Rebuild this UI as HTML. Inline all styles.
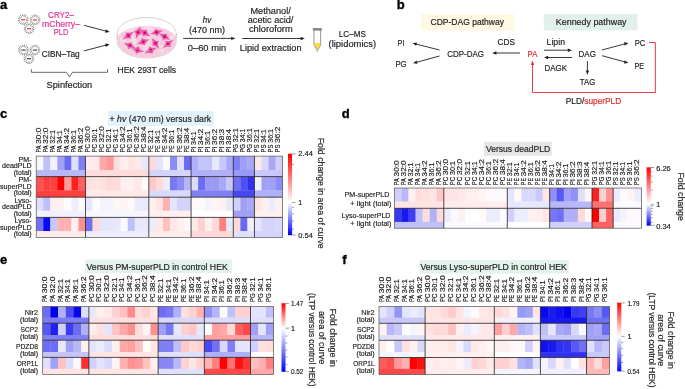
<!DOCTYPE html>
<html><head><meta charset="utf-8"><style>
html,body{margin:0;padding:0;background:#fff;width:685px;height:389px;overflow:hidden}
svg{display:block;will-change:transform}
text{font-family:"Liberation Sans",sans-serif}
</style></head><body>
<svg width="685" height="389" viewBox="0 0 685 389" font-family="Liberation Sans, sans-serif" fill="#231f20">
<text x="0.00" y="8.90" font-size="13" fill="#000" font-weight="bold" stroke="#000" stroke-width="0.35">a</text>
<line x1="27.12" y1="20.47" x2="28.59" y2="20.77" stroke="#555" stroke-width="0.7"/>
<line x1="26.53" y1="21.88" x2="27.78" y2="22.72" stroke="#555" stroke-width="0.7"/>
<line x1="25.45" y1="22.95" x2="26.28" y2="24.20" stroke="#555" stroke-width="0.7"/>
<line x1="24.05" y1="23.53" x2="24.33" y2="25.00" stroke="#555" stroke-width="0.7"/>
<line x1="22.53" y1="23.52" x2="22.23" y2="24.99" stroke="#555" stroke-width="0.7"/>
<line x1="21.12" y1="22.93" x2="20.28" y2="24.18" stroke="#555" stroke-width="0.7"/>
<line x1="20.05" y1="21.85" x2="18.80" y2="22.68" stroke="#555" stroke-width="0.7"/>
<line x1="19.47" y1="20.45" x2="18.00" y2="20.73" stroke="#555" stroke-width="0.7"/>
<line x1="19.48" y1="18.93" x2="18.01" y2="18.63" stroke="#555" stroke-width="0.7"/>
<line x1="20.07" y1="17.52" x2="18.82" y2="16.68" stroke="#555" stroke-width="0.7"/>
<line x1="21.15" y1="16.45" x2="20.32" y2="15.20" stroke="#555" stroke-width="0.7"/>
<line x1="22.55" y1="15.87" x2="22.27" y2="14.40" stroke="#555" stroke-width="0.7"/>
<line x1="24.07" y1="15.88" x2="24.37" y2="14.41" stroke="#555" stroke-width="0.7"/>
<line x1="25.48" y1="16.47" x2="26.32" y2="15.22" stroke="#555" stroke-width="0.7"/>
<line x1="26.55" y1="17.55" x2="27.80" y2="16.72" stroke="#555" stroke-width="0.7"/>
<line x1="27.13" y1="18.95" x2="28.60" y2="18.67" stroke="#555" stroke-width="0.7"/>
<circle cx="23.3" cy="19.7" r="3.5" fill="#fff" stroke="#6e6e6e" stroke-width="0.65" stroke-dasharray="1.1 0.6"/>
<rect x="21.2" y="19.0" width="4.2" height="1.4" fill="#e8525c"/>
<line x1="38.82" y1="20.67" x2="40.29" y2="20.97" stroke="#555" stroke-width="0.7"/>
<line x1="38.23" y1="22.08" x2="39.48" y2="22.92" stroke="#555" stroke-width="0.7"/>
<line x1="37.15" y1="23.15" x2="37.98" y2="24.40" stroke="#555" stroke-width="0.7"/>
<line x1="35.75" y1="23.73" x2="36.03" y2="25.20" stroke="#555" stroke-width="0.7"/>
<line x1="34.23" y1="23.72" x2="33.93" y2="25.19" stroke="#555" stroke-width="0.7"/>
<line x1="32.82" y1="23.13" x2="31.98" y2="24.38" stroke="#555" stroke-width="0.7"/>
<line x1="31.75" y1="22.05" x2="30.50" y2="22.88" stroke="#555" stroke-width="0.7"/>
<line x1="31.17" y1="20.65" x2="29.70" y2="20.93" stroke="#555" stroke-width="0.7"/>
<line x1="31.18" y1="19.13" x2="29.71" y2="18.83" stroke="#555" stroke-width="0.7"/>
<line x1="31.77" y1="17.72" x2="30.52" y2="16.88" stroke="#555" stroke-width="0.7"/>
<line x1="32.85" y1="16.65" x2="32.02" y2="15.40" stroke="#555" stroke-width="0.7"/>
<line x1="34.25" y1="16.07" x2="33.97" y2="14.60" stroke="#555" stroke-width="0.7"/>
<line x1="35.77" y1="16.08" x2="36.07" y2="14.61" stroke="#555" stroke-width="0.7"/>
<line x1="37.18" y1="16.67" x2="38.02" y2="15.42" stroke="#555" stroke-width="0.7"/>
<line x1="38.25" y1="17.75" x2="39.50" y2="16.92" stroke="#555" stroke-width="0.7"/>
<line x1="38.83" y1="19.15" x2="40.30" y2="18.87" stroke="#555" stroke-width="0.7"/>
<circle cx="35" cy="19.9" r="3.5" fill="#fff" stroke="#6e6e6e" stroke-width="0.65" stroke-dasharray="1.1 0.6"/>
<rect x="32.9" y="19.2" width="4.2" height="1.4" fill="#e8525c"/>
<line x1="32.92" y1="29.47" x2="34.39" y2="29.77" stroke="#555" stroke-width="0.7"/>
<line x1="32.33" y1="30.88" x2="33.58" y2="31.72" stroke="#555" stroke-width="0.7"/>
<line x1="31.25" y1="31.95" x2="32.08" y2="33.20" stroke="#555" stroke-width="0.7"/>
<line x1="29.85" y1="32.53" x2="30.13" y2="34.00" stroke="#555" stroke-width="0.7"/>
<line x1="28.33" y1="32.52" x2="28.03" y2="33.99" stroke="#555" stroke-width="0.7"/>
<line x1="26.92" y1="31.93" x2="26.08" y2="33.18" stroke="#555" stroke-width="0.7"/>
<line x1="25.85" y1="30.85" x2="24.60" y2="31.68" stroke="#555" stroke-width="0.7"/>
<line x1="25.27" y1="29.45" x2="23.80" y2="29.73" stroke="#555" stroke-width="0.7"/>
<line x1="25.28" y1="27.93" x2="23.81" y2="27.63" stroke="#555" stroke-width="0.7"/>
<line x1="25.87" y1="26.52" x2="24.62" y2="25.68" stroke="#555" stroke-width="0.7"/>
<line x1="26.95" y1="25.45" x2="26.12" y2="24.20" stroke="#555" stroke-width="0.7"/>
<line x1="28.35" y1="24.87" x2="28.07" y2="23.40" stroke="#555" stroke-width="0.7"/>
<line x1="29.87" y1="24.88" x2="30.17" y2="23.41" stroke="#555" stroke-width="0.7"/>
<line x1="31.28" y1="25.47" x2="32.12" y2="24.22" stroke="#555" stroke-width="0.7"/>
<line x1="32.35" y1="26.55" x2="33.60" y2="25.72" stroke="#555" stroke-width="0.7"/>
<line x1="32.93" y1="27.95" x2="34.40" y2="27.67" stroke="#555" stroke-width="0.7"/>
<circle cx="29.1" cy="28.7" r="3.5" fill="#fff" stroke="#6e6e6e" stroke-width="0.65" stroke-dasharray="1.1 0.6"/>
<rect x="27.0" y="28.0" width="4.2" height="1.4" fill="#e8525c"/>
<line x1="27.32" y1="50.87" x2="28.79" y2="51.17" stroke="#555" stroke-width="0.7"/>
<line x1="26.73" y1="52.28" x2="27.98" y2="53.12" stroke="#555" stroke-width="0.7"/>
<line x1="25.65" y1="53.35" x2="26.48" y2="54.60" stroke="#555" stroke-width="0.7"/>
<line x1="24.25" y1="53.93" x2="24.53" y2="55.40" stroke="#555" stroke-width="0.7"/>
<line x1="22.73" y1="53.92" x2="22.43" y2="55.39" stroke="#555" stroke-width="0.7"/>
<line x1="21.32" y1="53.33" x2="20.48" y2="54.58" stroke="#555" stroke-width="0.7"/>
<line x1="20.25" y1="52.25" x2="19.00" y2="53.08" stroke="#555" stroke-width="0.7"/>
<line x1="19.67" y1="50.85" x2="18.20" y2="51.13" stroke="#555" stroke-width="0.7"/>
<line x1="19.68" y1="49.33" x2="18.21" y2="49.03" stroke="#555" stroke-width="0.7"/>
<line x1="20.27" y1="47.92" x2="19.02" y2="47.08" stroke="#555" stroke-width="0.7"/>
<line x1="21.35" y1="46.85" x2="20.52" y2="45.60" stroke="#555" stroke-width="0.7"/>
<line x1="22.75" y1="46.27" x2="22.47" y2="44.80" stroke="#555" stroke-width="0.7"/>
<line x1="24.27" y1="46.28" x2="24.57" y2="44.81" stroke="#555" stroke-width="0.7"/>
<line x1="25.68" y1="46.87" x2="26.52" y2="45.62" stroke="#555" stroke-width="0.7"/>
<line x1="26.75" y1="47.95" x2="28.00" y2="47.12" stroke="#555" stroke-width="0.7"/>
<line x1="27.33" y1="49.35" x2="28.80" y2="49.07" stroke="#555" stroke-width="0.7"/>
<circle cx="23.5" cy="50.1" r="3.5" fill="#fff" stroke="#6e6e6e" stroke-width="0.65" stroke-dasharray="1.1 0.6"/>
<rect x="21.4" y="49.4" width="4.2" height="1.4" fill="#5e5e5e"/>
<line x1="38.72" y1="50.87" x2="40.19" y2="51.17" stroke="#555" stroke-width="0.7"/>
<line x1="38.13" y1="52.28" x2="39.38" y2="53.12" stroke="#555" stroke-width="0.7"/>
<line x1="37.05" y1="53.35" x2="37.88" y2="54.60" stroke="#555" stroke-width="0.7"/>
<line x1="35.65" y1="53.93" x2="35.93" y2="55.40" stroke="#555" stroke-width="0.7"/>
<line x1="34.13" y1="53.92" x2="33.83" y2="55.39" stroke="#555" stroke-width="0.7"/>
<line x1="32.72" y1="53.33" x2="31.88" y2="54.58" stroke="#555" stroke-width="0.7"/>
<line x1="31.65" y1="52.25" x2="30.40" y2="53.08" stroke="#555" stroke-width="0.7"/>
<line x1="31.07" y1="50.85" x2="29.60" y2="51.13" stroke="#555" stroke-width="0.7"/>
<line x1="31.08" y1="49.33" x2="29.61" y2="49.03" stroke="#555" stroke-width="0.7"/>
<line x1="31.67" y1="47.92" x2="30.42" y2="47.08" stroke="#555" stroke-width="0.7"/>
<line x1="32.75" y1="46.85" x2="31.92" y2="45.60" stroke="#555" stroke-width="0.7"/>
<line x1="34.15" y1="46.27" x2="33.87" y2="44.80" stroke="#555" stroke-width="0.7"/>
<line x1="35.67" y1="46.28" x2="35.97" y2="44.81" stroke="#555" stroke-width="0.7"/>
<line x1="37.08" y1="46.87" x2="37.92" y2="45.62" stroke="#555" stroke-width="0.7"/>
<line x1="38.15" y1="47.95" x2="39.40" y2="47.12" stroke="#555" stroke-width="0.7"/>
<line x1="38.73" y1="49.35" x2="40.20" y2="49.07" stroke="#555" stroke-width="0.7"/>
<circle cx="34.9" cy="50.1" r="3.5" fill="#fff" stroke="#6e6e6e" stroke-width="0.65" stroke-dasharray="1.1 0.6"/>
<rect x="32.8" y="49.4" width="4.2" height="1.4" fill="#5e5e5e"/>
<line x1="32.72" y1="59.47" x2="34.19" y2="59.77" stroke="#555" stroke-width="0.7"/>
<line x1="32.13" y1="60.88" x2="33.38" y2="61.72" stroke="#555" stroke-width="0.7"/>
<line x1="31.05" y1="61.95" x2="31.88" y2="63.20" stroke="#555" stroke-width="0.7"/>
<line x1="29.65" y1="62.53" x2="29.93" y2="64.00" stroke="#555" stroke-width="0.7"/>
<line x1="28.13" y1="62.52" x2="27.83" y2="63.99" stroke="#555" stroke-width="0.7"/>
<line x1="26.72" y1="61.93" x2="25.88" y2="63.18" stroke="#555" stroke-width="0.7"/>
<line x1="25.65" y1="60.85" x2="24.40" y2="61.68" stroke="#555" stroke-width="0.7"/>
<line x1="25.07" y1="59.45" x2="23.60" y2="59.73" stroke="#555" stroke-width="0.7"/>
<line x1="25.08" y1="57.93" x2="23.61" y2="57.63" stroke="#555" stroke-width="0.7"/>
<line x1="25.67" y1="56.52" x2="24.42" y2="55.68" stroke="#555" stroke-width="0.7"/>
<line x1="26.75" y1="55.45" x2="25.92" y2="54.20" stroke="#555" stroke-width="0.7"/>
<line x1="28.15" y1="54.87" x2="27.87" y2="53.40" stroke="#555" stroke-width="0.7"/>
<line x1="29.67" y1="54.88" x2="29.97" y2="53.41" stroke="#555" stroke-width="0.7"/>
<line x1="31.08" y1="55.47" x2="31.92" y2="54.22" stroke="#555" stroke-width="0.7"/>
<line x1="32.15" y1="56.55" x2="33.40" y2="55.72" stroke="#555" stroke-width="0.7"/>
<line x1="32.73" y1="57.95" x2="34.20" y2="57.67" stroke="#555" stroke-width="0.7"/>
<circle cx="28.9" cy="58.7" r="3.5" fill="#fff" stroke="#6e6e6e" stroke-width="0.65" stroke-dasharray="1.1 0.6"/>
<rect x="26.799999999999997" y="58.0" width="4.2" height="1.4" fill="#5e5e5e"/>
<text x="61.00" y="17.90" font-size="8.6" text-anchor="middle" textLength="25.9" lengthAdjust="spacingAndGlyphs" fill="#e62f92"  stroke="#e62f92" stroke-width="0.18">CRY2–</text>
<text x="61.00" y="26.80" font-size="8.6" text-anchor="middle" textLength="38.1" lengthAdjust="spacingAndGlyphs" fill="#e62f92"  stroke="#e62f92" stroke-width="0.18">mCherry–</text>
<text x="61.00" y="34.90" font-size="8.6" text-anchor="middle" textLength="14.7" lengthAdjust="spacingAndGlyphs" fill="#e62f92"  stroke="#e62f92" stroke-width="0.18">PLD</text>
<text x="41.70" y="57.30" font-size="8.6" textLength="38" lengthAdjust="spacingAndGlyphs"  stroke="#231f20" stroke-width="0.18">CIBN–Tag</text>
<line x1="84.20" y1="25.30" x2="106.03" y2="31.14" stroke="#231f20" stroke-width="0.9"/>
<path d="M109.60,32.10 L105.10,32.66 L105.98,29.37 Z" fill="#231f20"/>
<line x1="84.20" y1="50.80" x2="106.02" y2="45.13" stroke="#231f20" stroke-width="0.9"/>
<path d="M109.60,44.20 L105.96,46.90 L105.11,43.61 Z" fill="#231f20"/>
<path d="M31.4,69.2 L31.4,72.3 L66.5,72.3 L69.5,76.8 L72.5,72.3 L107.5,72.3 L107.5,69.2" fill="none" stroke="#4d4d4d" stroke-width="0.85" stroke-linejoin="miter"/>
<text x="69.40" y="87.80" font-size="8.8" text-anchor="middle" textLength="45.7" lengthAdjust="spacingAndGlyphs"  stroke="#231f20" stroke-width="0.18">Spinfection</text>
<path d="M117.1,34 A29.6,16.6 0 0 1 176.3,34 L176.3,41.6 A29.6,16.4 0 0 1 117.1,41.6 Z" fill="#fff" stroke="#c6c6c6" stroke-width="0.8"/>
<path d="M117.6,38.5 A29.1,12.5 0 0 1 175.8,38.5 L175.8,41.6 A29.1,16 0 0 1 117.6,41.6 Z" fill="#f7cbdf"/>
<clipPath id="dishclip"><path d="M117.6,38.5 A29.1,12.5 0 0 1 175.8,38.5 L175.8,41.6 A29.1,16 0 0 1 117.6,41.6 Z"/></clipPath>
<g clip-path="url(#dishclip)">
<path transform="translate(134,40.5) rotate(75)" d="M-8,0 Q-1.5,-1.3 0,-3.6 Q1.5,-1.3 8,0 Q1.5,1.3 0,3.6 Q-1.5,1.3 -8,0Z" fill="#fadbea"/>
<path transform="translate(150,37.5) rotate(110)" d="M-8,0 Q-1.5,-1.3 0,-3.6 Q1.5,-1.3 8,0 Q1.5,1.3 0,3.6 Q-1.5,1.3 -8,0Z" fill="#fadbea"/>
<path transform="translate(161,48.5) rotate(65)" d="M-8,0 Q-1.5,-1.3 0,-3.6 Q1.5,-1.3 8,0 Q1.5,1.3 0,3.6 Q-1.5,1.3 -8,0Z" fill="#fadbea"/>
<path transform="translate(146,47.5) rotate(125)" d="M-8,0 Q-1.5,-1.3 0,-3.6 Q1.5,-1.3 8,0 Q1.5,1.3 0,3.6 Q-1.5,1.3 -8,0Z" fill="#fadbea"/>
<path transform="translate(122.5,42) rotate(60)" d="M-8,0 Q-1.5,-1.3 0,-3.6 Q1.5,-1.3 8,0 Q1.5,1.3 0,3.6 Q-1.5,1.3 -8,0Z" fill="#fadbea"/>
<path transform="translate(171,40) rotate(115)" d="M-8,0 Q-1.5,-1.3 0,-3.6 Q1.5,-1.3 8,0 Q1.5,1.3 0,3.6 Q-1.5,1.3 -8,0Z" fill="#fadbea"/>
<path transform="translate(149,28.5) rotate(10)" d="M-8,0 Q-1.5,-1.3 0,-3.6 Q1.5,-1.3 8,0 Q1.5,1.3 0,3.6 Q-1.5,1.3 -8,0Z" fill="#fadbea"/>
<path transform="translate(130,29.5) rotate(160)" d="M-8,0 Q-1.5,-1.3 0,-3.6 Q1.5,-1.3 8,0 Q1.5,1.3 0,3.6 Q-1.5,1.3 -8,0Z" fill="#fadbea"/>
<path transform="translate(128.3,35.6) rotate(-35)" d="M-7.2,0 Q-1.4,-1.1 0,-4.0 Q1.4,-1.1 7.2,0 Q1.4,1.1 0,4.0 Q-1.4,1.1 -7.2,0Z" fill="#ec58a7"/>
<circle cx="128.3" cy="35.6" r="1.4" fill="#dc0078"/>
<path transform="translate(138.1,32.3) rotate(-70)" d="M-7.2,0 Q-1.4,-1.1 0,-4.0 Q1.4,-1.1 7.2,0 Q1.4,1.1 0,4.0 Q-1.4,1.1 -7.2,0Z" fill="#ec58a7"/>
<circle cx="138.1" cy="32.3" r="1.4" fill="#dc0078"/>
<path transform="translate(144.8,32.9) rotate(35)" d="M-7.2,0 Q-1.4,-1.1 0,-4.0 Q1.4,-1.1 7.2,0 Q1.4,1.1 0,4.0 Q-1.4,1.1 -7.2,0Z" fill="#ec58a7"/>
<circle cx="144.8" cy="32.9" r="1.4" fill="#dc0078"/>
<path transform="translate(156.5,32.3) rotate(-15)" d="M-7.2,0 Q-1.4,-1.1 0,-4.0 Q1.4,-1.1 7.2,0 Q1.4,1.1 0,4.0 Q-1.4,1.1 -7.2,0Z" fill="#ec58a7"/>
<circle cx="156.5" cy="32.3" r="1.4" fill="#dc0078"/>
<path transform="translate(164.6,36.7) rotate(30)" d="M-7.2,0 Q-1.4,-1.1 0,-4.0 Q1.4,-1.1 7.2,0 Q1.4,1.1 0,4.0 Q-1.4,1.1 -7.2,0Z" fill="#ec58a7"/>
<circle cx="164.6" cy="36.7" r="1.4" fill="#dc0078"/>
<path transform="translate(129.8,45.6) rotate(25)" d="M-7.2,0 Q-1.4,-1.1 0,-4.0 Q1.4,-1.1 7.2,0 Q1.4,1.1 0,4.0 Q-1.4,1.1 -7.2,0Z" fill="#ec58a7"/>
<circle cx="129.8" cy="45.6" r="1.4" fill="#dc0078"/>
<path transform="translate(143.3,41.8) rotate(-20)" d="M-7.2,0 Q-1.4,-1.1 0,-4.0 Q1.4,-1.1 7.2,0 Q1.4,1.1 0,4.0 Q-1.4,1.1 -7.2,0Z" fill="#ec58a7"/>
<circle cx="143.3" cy="41.8" r="1.4" fill="#dc0078"/>
<path transform="translate(155.4,43.3) rotate(55)" d="M-7.2,0 Q-1.4,-1.1 0,-4.0 Q1.4,-1.1 7.2,0 Q1.4,1.1 0,4.0 Q-1.4,1.1 -7.2,0Z" fill="#ec58a7"/>
<circle cx="155.4" cy="43.3" r="1.4" fill="#dc0078"/>
<path transform="translate(168.1,43.9) rotate(-40)" d="M-7.2,0 Q-1.4,-1.1 0,-4.0 Q1.4,-1.1 7.2,0 Q1.4,1.1 0,4.0 Q-1.4,1.1 -7.2,0Z" fill="#ec58a7"/>
<circle cx="168.1" cy="43.9" r="1.4" fill="#dc0078"/>
<path transform="translate(137.5,50.2) rotate(15)" d="M-7.2,0 Q-1.4,-1.1 0,-4.0 Q1.4,-1.1 7.2,0 Q1.4,1.1 0,4.0 Q-1.4,1.1 -7.2,0Z" fill="#ec58a7"/>
<circle cx="137.5" cy="50.2" r="1.4" fill="#dc0078"/>
<path transform="translate(150.8,50.2) rotate(-25)" d="M-7.2,0 Q-1.4,-1.1 0,-4.0 Q1.4,-1.1 7.2,0 Q1.4,1.1 0,4.0 Q-1.4,1.1 -7.2,0Z" fill="#ec58a7"/>
<circle cx="150.8" cy="50.2" r="1.4" fill="#dc0078"/>
</g>
<path d="M117.1,34 A29.6,16.6 0 0 0 176.3,34" fill="none" stroke="#bcbcbc" stroke-width="0.6" opacity="0.8"/>
<text x="146.80" y="72.60" font-size="8.6" text-anchor="middle" textLength="58.5" lengthAdjust="spacingAndGlyphs"  stroke="#231f20" stroke-width="0.18">HEK 293T cells</text>
<text x="207.00" y="22.50" font-size="8.6" text-anchor="middle" textLength="8.5" lengthAdjust="spacingAndGlyphs" font-style="italic"  stroke="#231f20" stroke-width="0.18">hv</text>
<text x="207.00" y="32.80" font-size="8.6" text-anchor="middle" textLength="36" lengthAdjust="spacingAndGlyphs"  stroke="#231f20" stroke-width="0.18">(470 nm)</text>
<line x1="183.20" y1="38.40" x2="231.70" y2="38.40" stroke="#231f20" stroke-width="0.9"/>
<path d="M235.40,38.40 L231.20,40.10 L231.20,36.70 Z" fill="#231f20"/>
<text x="207.00" y="50.50" font-size="8.6" text-anchor="middle" textLength="38.5" lengthAdjust="spacingAndGlyphs"  stroke="#231f20" stroke-width="0.18">0–60 min</text>
<text x="270.60" y="13.50" font-size="9" text-anchor="middle" textLength="40.4" lengthAdjust="spacingAndGlyphs"  stroke="#231f20" stroke-width="0.18">Methanol/</text>
<text x="270.60" y="22.90" font-size="9" text-anchor="middle" textLength="45.6" lengthAdjust="spacingAndGlyphs"  stroke="#231f20" stroke-width="0.18">acetic acid/</text>
<text x="270.80" y="32.40" font-size="9" text-anchor="middle" textLength="43.7" lengthAdjust="spacingAndGlyphs"  stroke="#231f20" stroke-width="0.18">chloroform</text>
<line x1="242.20" y1="38.50" x2="301.10" y2="38.50" stroke="#231f20" stroke-width="0.9"/>
<path d="M304.80,38.50 L300.60,40.20 L300.60,36.80 Z" fill="#231f20"/>
<text x="270.70" y="50.60" font-size="8.6" text-anchor="middle" textLength="61.8" lengthAdjust="spacingAndGlyphs"  stroke="#231f20" stroke-width="0.18">Lipid extraction</text>
<path d="M314,30.3 L314,44.6 L317.3,50.8 L320.6,44.6 L320.6,30.3" fill="#fff" stroke="#a3a3a3" stroke-width="1.15"/>
<path d="M314.5,43 L320.1,43 L320.1,44.6 L317.3,50 L314.5,44.6 Z" fill="#fbdc3a"/>
<rect x="312.8" y="28" width="9.1" height="2.7" fill="#8a8a8a"/>
<text x="352.30" y="37.00" font-size="8.6" text-anchor="middle" textLength="27.3" lengthAdjust="spacingAndGlyphs"  stroke="#231f20" stroke-width="0.18">LC–MS</text>
<text x="352.30" y="47.00" font-size="8.6" text-anchor="middle" textLength="47.5" lengthAdjust="spacingAndGlyphs"  stroke="#231f20" stroke-width="0.18">(lipidomics)</text>
<text x="396.80" y="9.00" font-size="13" fill="#000" font-weight="bold" stroke="#000" stroke-width="0.35">b</text>
<rect x="420.7" y="13.9" width="93.5" height="16.7" fill="#fdf9e2"/>
<rect x="543.8" y="14" width="93.7" height="16.4" fill="#e2f0eb"/>
<text x="467.20" y="25.00" font-size="8.6" text-anchor="middle" textLength="73.4" lengthAdjust="spacingAndGlyphs"  stroke="#231f20" stroke-width="0.18">CDP-DAG pathway</text>
<text x="591.20" y="25.00" font-size="8.6" text-anchor="middle" textLength="70.7" lengthAdjust="spacingAndGlyphs"  stroke="#231f20" stroke-width="0.18">Kennedy pathway</text>
<text x="401.00" y="46.30" font-size="8.6" text-anchor="middle" textLength="6.8" lengthAdjust="spacingAndGlyphs"  stroke="#231f20" stroke-width="0.18">PI</text>
<text x="401.00" y="67.00" font-size="8.6" text-anchor="middle" textLength="11.2" lengthAdjust="spacingAndGlyphs"  stroke="#231f20" stroke-width="0.18">PG</text>
<text x="465.60" y="57.00" font-size="8.6" text-anchor="middle" textLength="36.8" lengthAdjust="spacingAndGlyphs"  stroke="#231f20" stroke-width="0.18">CDP-DAG</text>
<line x1="439.50" y1="50.00" x2="416.09" y2="44.10" stroke="#231f20" stroke-width="0.9"/>
<path d="M412.50,43.20 L416.99,42.58 L416.16,45.87 Z" fill="#231f20"/>
<line x1="439.50" y1="56.00" x2="416.57" y2="62.32" stroke="#231f20" stroke-width="0.9"/>
<path d="M413.00,63.30 L416.60,60.55 L417.50,63.82 Z" fill="#231f20"/>
<text x="506.30" y="45.30" font-size="8.6" text-anchor="middle" textLength="17.4" lengthAdjust="spacingAndGlyphs"  stroke="#231f20" stroke-width="0.18">CDS</text>
<line x1="520.00" y1="53.00" x2="495.90" y2="53.00" stroke="#231f20" stroke-width="0.9"/>
<path d="M492.20,53.00 L496.40,51.30 L496.40,54.70 Z" fill="#231f20"/>
<text x="532.45" y="57.00" font-size="8.6" text-anchor="middle" textLength="9.7" lengthAdjust="spacingAndGlyphs" fill="#ea2a2f"  stroke="#ea2a2f" stroke-width="0.18">PA</text>
<text x="555.80" y="45.30" font-size="8.6" text-anchor="middle" textLength="18.4" lengthAdjust="spacingAndGlyphs"  stroke="#231f20" stroke-width="0.18">Lipin</text>
<line x1="544.00" y1="50.20" x2="568.30" y2="50.20" stroke="#231f20" stroke-width="0.9"/>
<path d="M572.00,50.20 L567.80,51.90 L567.80,48.50 Z" fill="#231f20"/>
<line x1="572.00" y1="57.50" x2="547.70" y2="57.50" stroke="#231f20" stroke-width="0.9"/>
<path d="M544.00,57.50 L548.20,55.80 L548.20,59.20 Z" fill="#231f20"/>
<text x="587.20" y="57.00" font-size="8.6" text-anchor="middle" textLength="17.3" lengthAdjust="spacingAndGlyphs"  stroke="#231f20" stroke-width="0.18">DAG</text>
<text x="555.70" y="70.60" font-size="8.6" text-anchor="middle" textLength="22.5" lengthAdjust="spacingAndGlyphs"  stroke="#231f20" stroke-width="0.18">DAGK</text>
<line x1="587.40" y1="61.30" x2="587.40" y2="71.00" stroke="#231f20" stroke-width="0.9"/>
<path d="M587.40,74.70 L585.70,70.50 L589.10,70.50 Z" fill="#231f20"/>
<text x="587.50" y="85.40" font-size="8.6" text-anchor="middle" textLength="15.4" lengthAdjust="spacingAndGlyphs"  stroke="#231f20" stroke-width="0.18">TAG</text>
<text x="640.00" y="45.60" font-size="8.6" text-anchor="middle" textLength="10.5" lengthAdjust="spacingAndGlyphs"  stroke="#231f20" stroke-width="0.18">PC</text>
<text x="639.30" y="69.20" font-size="8.6" text-anchor="middle" textLength="9.5" lengthAdjust="spacingAndGlyphs"  stroke="#231f20" stroke-width="0.18">PE</text>
<line x1="602.00" y1="50.00" x2="624.83" y2="43.86" stroke="#231f20" stroke-width="0.9"/>
<path d="M628.40,42.90 L624.79,45.63 L623.90,42.35 Z" fill="#231f20"/>
<line x1="602.00" y1="55.70" x2="624.83" y2="61.93" stroke="#231f20" stroke-width="0.9"/>
<path d="M628.40,62.90 L623.90,63.44 L624.80,60.15 Z" fill="#231f20"/>
<path d="M649,42.5 L655.4,42.5 L655.4,92.5 L532.5,92.5 L532.5,64" fill="none" stroke="#ea2a2f" stroke-width="0.9"/>
<path d="M532.5,60.6 L530.8,65 L534.2,65 Z" fill="#ea2a2f"/>
<text x="565.8" y="104" font-size="8.6" stroke="#231f20" stroke-width="0.18" textLength="55.4" lengthAdjust="spacingAndGlyphs">PLD/<tspan fill="#ea2a2f" stroke="#ea2a2f">superPLD</tspan></text>
<text x="0.00" y="118.30" font-size="13" fill="#000" font-weight="bold" stroke="#000" stroke-width="0.35">c</text>
<rect x="107.9" y="111.1" width="105.9" height="14.9" fill="#e2f3fb"/>
<text x="109.6" y="121.7" font-size="8.6" stroke="#231f20" stroke-width="0.18" textLength="101.6" lengthAdjust="spacingAndGlyphs">+ <tspan font-style="italic">hv</tspan> (470 nm) versus dark</text>
<rect x="36.20" y="156.10" width="7.34" height="14.20" fill="#f6f6fe"/>
<rect x="43.24" y="156.10" width="7.34" height="14.20" fill="#c0c0f8"/>
<rect x="50.28" y="156.10" width="7.34" height="14.20" fill="#f0f0fe"/>
<rect x="57.32" y="156.10" width="7.34" height="14.20" fill="#a0a0f6"/>
<rect x="64.36" y="156.10" width="7.34" height="14.20" fill="#6a6af5"/>
<rect x="71.40" y="156.10" width="7.34" height="14.20" fill="#e0e0fc"/>
<rect x="78.44" y="156.10" width="7.34" height="14.20" fill="#8080f5"/>
<rect x="85.48" y="156.10" width="7.34" height="14.20" fill="#ffecec"/>
<rect x="92.52" y="156.10" width="7.34" height="14.20" fill="#ffe8e8"/>
<rect x="99.56" y="156.10" width="7.34" height="14.20" fill="#ffa8a8"/>
<rect x="106.60" y="156.10" width="7.34" height="14.20" fill="#ff9898"/>
<rect x="113.64" y="156.10" width="7.34" height="14.20" fill="#ffe0e0"/>
<rect x="120.68" y="156.10" width="7.34" height="14.20" fill="#fff0f0"/>
<rect x="127.72" y="156.10" width="7.34" height="14.20" fill="#ffe4e4"/>
<rect x="134.76" y="156.10" width="7.34" height="14.20" fill="#ffe8e8"/>
<rect x="141.80" y="156.10" width="7.34" height="14.20" fill="#e8e8fc"/>
<rect x="148.84" y="156.10" width="7.34" height="14.20" fill="#ffd8d8"/>
<rect x="155.88" y="156.10" width="7.34" height="14.20" fill="#e4e4fc"/>
<rect x="162.92" y="156.10" width="7.34" height="14.20" fill="#fafaff"/>
<rect x="169.96" y="156.10" width="7.34" height="14.20" fill="#8c8cf5"/>
<rect x="177.00" y="156.10" width="7.34" height="14.20" fill="#e0e0fc"/>
<rect x="184.04" y="156.10" width="7.34" height="14.20" fill="#6a6af5"/>
<rect x="191.08" y="156.10" width="7.34" height="14.20" fill="#b0b0f8"/>
<rect x="198.12" y="156.10" width="7.34" height="14.20" fill="#c4c4f8"/>
<rect x="205.16" y="156.10" width="7.34" height="14.20" fill="#c4c4f8"/>
<rect x="212.20" y="156.10" width="7.34" height="14.20" fill="#e8e8fc"/>
<rect x="219.24" y="156.10" width="7.34" height="14.20" fill="#c8c8fa"/>
<rect x="226.28" y="156.10" width="7.34" height="14.20" fill="#a8a8f6"/>
<rect x="233.32" y="156.10" width="7.34" height="14.20" fill="#8080f5"/>
<rect x="240.36" y="156.10" width="7.34" height="14.20" fill="#a0a0f6"/>
<rect x="247.40" y="156.10" width="7.34" height="14.20" fill="#a8a8f6"/>
<rect x="254.44" y="156.10" width="7.34" height="14.20" fill="#ffe8e8"/>
<rect x="261.48" y="156.10" width="7.34" height="14.20" fill="#d8d8fa"/>
<rect x="268.52" y="156.10" width="7.34" height="14.20" fill="#a8a8f6"/>
<rect x="275.56" y="156.10" width="7.34" height="14.20" fill="#d0d0fa"/>
<rect x="36.20" y="170.00" width="49.58" height="6.60" fill="#b8b8f6"/>
<rect x="85.48" y="170.00" width="63.66" height="6.60" fill="#ffdcdc"/>
<rect x="148.84" y="170.00" width="42.54" height="6.60" fill="#d4d4fa"/>
<rect x="191.08" y="170.00" width="42.54" height="6.60" fill="#b0b0f8"/>
<rect x="233.32" y="170.00" width="21.42" height="6.60" fill="#9898f5"/>
<rect x="254.44" y="170.00" width="28.46" height="6.60" fill="#c8c8fa"/>
<rect x="36.20" y="176.60" width="7.34" height="14.10" fill="#ff5050"/>
<rect x="43.24" y="176.60" width="7.34" height="14.10" fill="#ff4040"/>
<rect x="50.28" y="176.60" width="7.34" height="14.10" fill="#ff4040"/>
<rect x="57.32" y="176.60" width="7.34" height="14.10" fill="#ff0000"/>
<rect x="64.36" y="176.60" width="7.34" height="14.10" fill="#ff9a9a"/>
<rect x="71.40" y="176.60" width="7.34" height="14.10" fill="#ff2020"/>
<rect x="78.44" y="176.60" width="7.34" height="14.10" fill="#ff6060"/>
<rect x="85.48" y="176.60" width="7.34" height="14.10" fill="#ffe0e0"/>
<rect x="92.52" y="176.60" width="7.34" height="14.10" fill="#ffe4e4"/>
<rect x="99.56" y="176.60" width="7.34" height="14.10" fill="#ffe0e0"/>
<rect x="106.60" y="176.60" width="7.34" height="14.10" fill="#ffd8d8"/>
<rect x="113.64" y="176.60" width="7.34" height="14.10" fill="#ffdcdc"/>
<rect x="120.68" y="176.60" width="7.34" height="14.10" fill="#fff0f0"/>
<rect x="127.72" y="176.60" width="7.34" height="14.10" fill="#fff0f0"/>
<rect x="134.76" y="176.60" width="7.34" height="14.10" fill="#ffe8e8"/>
<rect x="141.80" y="176.60" width="7.34" height="14.10" fill="#fffafa"/>
<rect x="148.84" y="176.60" width="7.34" height="14.10" fill="#ffc8c8"/>
<rect x="155.88" y="176.60" width="7.34" height="14.10" fill="#ffd8d8"/>
<rect x="162.92" y="176.60" width="7.34" height="14.10" fill="#ececfd"/>
<rect x="169.96" y="176.60" width="7.34" height="14.10" fill="#7878f5"/>
<rect x="177.00" y="176.60" width="7.34" height="14.10" fill="#8c8cf5"/>
<rect x="184.04" y="176.60" width="7.34" height="14.10" fill="#b4b4f8"/>
<rect x="191.08" y="176.60" width="7.34" height="14.10" fill="#dcdcfc"/>
<rect x="198.12" y="176.60" width="7.34" height="14.10" fill="#6c6cf5"/>
<rect x="205.16" y="176.60" width="7.34" height="14.10" fill="#9a9af5"/>
<rect x="212.20" y="176.60" width="7.34" height="14.10" fill="#9a9af5"/>
<rect x="219.24" y="176.60" width="7.34" height="14.10" fill="#a8a8f6"/>
<rect x="226.28" y="176.60" width="7.34" height="14.10" fill="#c8c8fa"/>
<rect x="233.32" y="176.60" width="7.34" height="14.10" fill="#7070f5"/>
<rect x="240.36" y="176.60" width="7.34" height="14.10" fill="#5050f2"/>
<rect x="247.40" y="176.60" width="7.34" height="14.10" fill="#3030f0"/>
<rect x="254.44" y="176.60" width="7.34" height="14.10" fill="#f0f0fe"/>
<rect x="261.48" y="176.60" width="7.34" height="14.10" fill="#a0a0f6"/>
<rect x="268.52" y="176.60" width="7.34" height="14.10" fill="#a0a0f6"/>
<rect x="275.56" y="176.60" width="7.34" height="14.10" fill="#8c8cf5"/>
<rect x="36.20" y="190.40" width="49.58" height="6.80" fill="#ff4040"/>
<rect x="85.48" y="190.40" width="63.66" height="6.80" fill="#ffe8e8"/>
<rect x="148.84" y="190.40" width="42.54" height="6.80" fill="#d8d8fa"/>
<rect x="191.08" y="190.40" width="42.54" height="6.80" fill="#8080f5"/>
<rect x="233.32" y="190.40" width="21.42" height="6.80" fill="#4848f2"/>
<rect x="254.44" y="190.40" width="28.46" height="6.80" fill="#b0b0f8"/>
<rect x="36.20" y="197.20" width="7.34" height="13.80" fill="#dcdcfc"/>
<rect x="43.24" y="197.20" width="7.34" height="13.80" fill="#c0c0f8"/>
<rect x="50.28" y="197.20" width="7.34" height="13.80" fill="#fff0f0"/>
<rect x="57.32" y="197.20" width="7.34" height="13.80" fill="#fff0f0"/>
<rect x="64.36" y="197.20" width="7.34" height="13.80" fill="#fdfdff"/>
<rect x="71.40" y="197.20" width="7.34" height="13.80" fill="#eeeefe"/>
<rect x="78.44" y="197.20" width="7.34" height="13.80" fill="#fff8f8"/>
<rect x="85.48" y="197.20" width="7.34" height="13.80" fill="#e6e6fc"/>
<rect x="92.52" y="197.20" width="7.34" height="13.80" fill="#fcfcff"/>
<rect x="99.56" y="197.20" width="7.34" height="13.80" fill="#f4f4fe"/>
<rect x="106.60" y="197.20" width="7.34" height="13.80" fill="#f4f4fe"/>
<rect x="113.64" y="197.20" width="7.34" height="13.80" fill="#fff6f6"/>
<rect x="120.68" y="197.20" width="7.34" height="13.80" fill="#fff4f4"/>
<rect x="127.72" y="197.20" width="7.34" height="13.80" fill="#fff8f8"/>
<rect x="134.76" y="197.20" width="7.34" height="13.80" fill="#eaeafd"/>
<rect x="141.80" y="197.20" width="7.34" height="13.80" fill="#eaeafd"/>
<rect x="148.84" y="197.20" width="7.34" height="13.80" fill="#fff0f0"/>
<rect x="155.88" y="197.20" width="7.34" height="13.80" fill="#ffe4e4"/>
<rect x="162.92" y="197.20" width="7.34" height="13.80" fill="#ffb0b0"/>
<rect x="169.96" y="197.20" width="7.34" height="13.80" fill="#e4e4fc"/>
<rect x="177.00" y="197.20" width="7.34" height="13.80" fill="#d4d4fa"/>
<rect x="184.04" y="197.20" width="7.34" height="13.80" fill="#d4d4fa"/>
<rect x="191.08" y="197.20" width="7.34" height="13.80" fill="#fff8f8"/>
<rect x="198.12" y="197.20" width="7.34" height="13.80" fill="#fff8f8"/>
<rect x="205.16" y="197.20" width="7.34" height="13.80" fill="#f4f4fe"/>
<rect x="212.20" y="197.20" width="7.34" height="13.80" fill="#fff4f4"/>
<rect x="219.24" y="197.20" width="7.34" height="13.80" fill="#fff0f0"/>
<rect x="226.28" y="197.20" width="7.34" height="13.80" fill="#e8e8fc"/>
<rect x="233.32" y="197.20" width="7.34" height="13.80" fill="#d0d0fa"/>
<rect x="240.36" y="197.20" width="7.34" height="13.80" fill="#a0a0f6"/>
<rect x="247.40" y="197.20" width="7.34" height="13.80" fill="#a8a8f6"/>
<rect x="254.44" y="197.20" width="7.34" height="13.80" fill="#ffe4e4"/>
<rect x="261.48" y="197.20" width="7.34" height="13.80" fill="#fff0f0"/>
<rect x="268.52" y="197.20" width="7.34" height="13.80" fill="#ececfd"/>
<rect x="275.56" y="197.20" width="7.34" height="13.80" fill="#fff0f0"/>
<rect x="36.20" y="210.70" width="49.58" height="6.70" fill="#f0f0fe"/>
<rect x="85.48" y="210.70" width="63.66" height="6.70" fill="#f6f6fe"/>
<rect x="148.84" y="210.70" width="42.54" height="6.70" fill="#fff0f0"/>
<rect x="191.08" y="210.70" width="42.54" height="6.70" fill="#ffffff"/>
<rect x="233.32" y="210.70" width="21.42" height="6.70" fill="#a0a0f6"/>
<rect x="254.44" y="210.70" width="28.46" height="6.70" fill="#fff0f0"/>
<rect x="36.20" y="217.40" width="7.34" height="14.00" fill="#7070f5"/>
<rect x="43.24" y="217.40" width="7.34" height="14.00" fill="#0a0af0"/>
<rect x="50.28" y="217.40" width="7.34" height="14.00" fill="#c8c8fa"/>
<rect x="57.32" y="217.40" width="7.34" height="14.00" fill="#ffb0b0"/>
<rect x="64.36" y="217.40" width="7.34" height="14.00" fill="#ffb0b0"/>
<rect x="71.40" y="217.40" width="7.34" height="14.00" fill="#fff0f0"/>
<rect x="78.44" y="217.40" width="7.34" height="14.00" fill="#ff9090"/>
<rect x="85.48" y="217.40" width="7.34" height="14.00" fill="#7070f5"/>
<rect x="92.52" y="217.40" width="7.34" height="14.00" fill="#ffd8d8"/>
<rect x="99.56" y="217.40" width="7.34" height="14.00" fill="#e4e4fc"/>
<rect x="106.60" y="217.40" width="7.34" height="14.00" fill="#e4e4fc"/>
<rect x="113.64" y="217.40" width="7.34" height="14.00" fill="#e8e8fc"/>
<rect x="120.68" y="217.40" width="7.34" height="14.00" fill="#fafaff"/>
<rect x="127.72" y="217.40" width="7.34" height="14.00" fill="#c0c0f8"/>
<rect x="134.76" y="217.40" width="7.34" height="14.00" fill="#e8e8fc"/>
<rect x="141.80" y="217.40" width="7.34" height="14.00" fill="#e8e8fc"/>
<rect x="148.84" y="217.40" width="7.34" height="14.00" fill="#ececfd"/>
<rect x="155.88" y="217.40" width="7.34" height="14.00" fill="#ffe8e8"/>
<rect x="162.92" y="217.40" width="7.34" height="14.00" fill="#ffc0c0"/>
<rect x="169.96" y="217.40" width="7.34" height="14.00" fill="#ffe8e8"/>
<rect x="177.00" y="217.40" width="7.34" height="14.00" fill="#fff0f0"/>
<rect x="184.04" y="217.40" width="7.34" height="14.00" fill="#fff8f8"/>
<rect x="191.08" y="217.40" width="7.34" height="14.00" fill="#ffe8e8"/>
<rect x="198.12" y="217.40" width="7.34" height="14.00" fill="#ffd0d0"/>
<rect x="205.16" y="217.40" width="7.34" height="14.00" fill="#fff0f0"/>
<rect x="212.20" y="217.40" width="7.34" height="14.00" fill="#ffd8d8"/>
<rect x="219.24" y="217.40" width="7.34" height="14.00" fill="#ff8080"/>
<rect x="226.28" y="217.40" width="7.34" height="14.00" fill="#e8e8fc"/>
<rect x="233.32" y="217.40" width="7.34" height="14.00" fill="#ffd8d8"/>
<rect x="240.36" y="217.40" width="7.34" height="14.00" fill="#6868f5"/>
<rect x="247.40" y="217.40" width="7.34" height="14.00" fill="#f0f0fe"/>
<rect x="254.44" y="217.40" width="7.34" height="14.00" fill="#e4e4fc"/>
<rect x="261.48" y="217.40" width="7.34" height="14.00" fill="#d4d4fa"/>
<rect x="268.52" y="217.40" width="7.34" height="14.00" fill="#d4d4fa"/>
<rect x="275.56" y="217.40" width="7.34" height="14.00" fill="#d8d8fa"/>
<rect x="36.20" y="231.10" width="49.58" height="6.40" fill="#ffeaea"/>
<rect x="85.48" y="231.10" width="63.66" height="6.40" fill="#ececfd"/>
<rect x="148.84" y="231.10" width="42.54" height="6.40" fill="#ffecec"/>
<rect x="191.08" y="231.10" width="42.54" height="6.40" fill="#ffd8d8"/>
<rect x="233.32" y="231.10" width="21.42" height="6.40" fill="#e0e0fc"/>
<rect x="254.44" y="231.10" width="28.46" height="6.40" fill="#d4d4fa"/>
<line x1="85.48" y1="156.10" x2="85.48" y2="237.50" stroke="#231f20" stroke-width="0.8"/>
<line x1="148.84" y1="156.10" x2="148.84" y2="237.50" stroke="#231f20" stroke-width="0.8"/>
<line x1="191.08" y1="156.10" x2="191.08" y2="237.50" stroke="#231f20" stroke-width="0.8"/>
<line x1="233.32" y1="156.10" x2="233.32" y2="237.50" stroke="#231f20" stroke-width="0.8"/>
<line x1="254.44" y1="156.10" x2="254.44" y2="237.50" stroke="#231f20" stroke-width="0.8"/>
<line x1="36.20" y1="176.60" x2="282.60" y2="176.60" stroke="#231f20" stroke-width="0.8"/>
<line x1="36.20" y1="197.20" x2="282.60" y2="197.20" stroke="#231f20" stroke-width="0.8"/>
<line x1="36.20" y1="217.40" x2="282.60" y2="217.40" stroke="#231f20" stroke-width="0.8"/>
<rect x="36.20" y="156.10" width="246.40" height="81.40" fill="none" stroke="#555" stroke-width="0.7"/>
<g transform="translate(40.72,152.60) rotate(-90) scale(1,0.9)" stroke="#231f20" stroke-width="0.2"><text x="0" y="0" font-size="8" textLength="7.0" lengthAdjust="spacingAndGlyphs">PA</text><text x="8.80" y="0" font-size="8" textLength="16.15" lengthAdjust="spacingAndGlyphs">30:0</text></g>
<g transform="translate(47.76,152.60) rotate(-90) scale(1,0.9)" stroke="#231f20" stroke-width="0.2"><text x="0" y="0" font-size="8" textLength="7.0" lengthAdjust="spacingAndGlyphs">PA</text><text x="8.80" y="0" font-size="8" textLength="16.15" lengthAdjust="spacingAndGlyphs">32:0</text></g>
<g transform="translate(54.80,152.60) rotate(-90) scale(1,0.9)" stroke="#231f20" stroke-width="0.2"><text x="0" y="0" font-size="8" textLength="7.0" lengthAdjust="spacingAndGlyphs">PA</text><text x="8.80" y="0" font-size="8" textLength="13.80" lengthAdjust="spacingAndGlyphs">32:1</text></g>
<g transform="translate(61.84,152.60) rotate(-90) scale(1,0.9)" stroke="#231f20" stroke-width="0.2"><text x="0" y="0" font-size="8" textLength="7.0" lengthAdjust="spacingAndGlyphs">PA</text><text x="8.80" y="0" font-size="8" textLength="13.55" lengthAdjust="spacingAndGlyphs">34:1</text></g>
<g transform="translate(68.88,152.60) rotate(-90) scale(1,0.9)" stroke="#231f20" stroke-width="0.2"><text x="0" y="0" font-size="8" textLength="7.0" lengthAdjust="spacingAndGlyphs">PA</text><text x="8.80" y="0" font-size="8" textLength="15.90" lengthAdjust="spacingAndGlyphs">34:2</text></g>
<g transform="translate(75.92,152.60) rotate(-90) scale(1,0.9)" stroke="#231f20" stroke-width="0.2"><text x="0" y="0" font-size="8" textLength="7.0" lengthAdjust="spacingAndGlyphs">PA</text><text x="8.80" y="0" font-size="8" textLength="13.80" lengthAdjust="spacingAndGlyphs">36:1</text></g>
<g transform="translate(82.96,152.60) rotate(-90) scale(1,0.9)" stroke="#231f20" stroke-width="0.2"><text x="0" y="0" font-size="8" textLength="7.0" lengthAdjust="spacingAndGlyphs">PA</text><text x="8.80" y="0" font-size="8" textLength="16.15" lengthAdjust="spacingAndGlyphs">36:2</text></g>
<g transform="translate(90.00,152.60) rotate(-90) scale(1,0.9)" stroke="#231f20" stroke-width="0.2"><text x="0" y="0" font-size="8" textLength="8.4" lengthAdjust="spacingAndGlyphs">PC</text><text x="10.20" y="0" font-size="8" textLength="16.15" lengthAdjust="spacingAndGlyphs">30:0</text></g>
<g transform="translate(97.04,152.60) rotate(-90) scale(1,0.9)" stroke="#231f20" stroke-width="0.2"><text x="0" y="0" font-size="8" textLength="8.4" lengthAdjust="spacingAndGlyphs">PC</text><text x="10.20" y="0" font-size="8" textLength="13.80" lengthAdjust="spacingAndGlyphs">30:1</text></g>
<g transform="translate(104.08,152.60) rotate(-90) scale(1,0.9)" stroke="#231f20" stroke-width="0.2"><text x="0" y="0" font-size="8" textLength="8.4" lengthAdjust="spacingAndGlyphs">PC</text><text x="10.20" y="0" font-size="8" textLength="16.15" lengthAdjust="spacingAndGlyphs">32:0</text></g>
<g transform="translate(111.12,152.60) rotate(-90) scale(1,0.9)" stroke="#231f20" stroke-width="0.2"><text x="0" y="0" font-size="8" textLength="8.4" lengthAdjust="spacingAndGlyphs">PC</text><text x="10.20" y="0" font-size="8" textLength="13.80" lengthAdjust="spacingAndGlyphs">32:1</text></g>
<g transform="translate(118.16,152.60) rotate(-90) scale(1,0.9)" stroke="#231f20" stroke-width="0.2"><text x="0" y="0" font-size="8" textLength="8.4" lengthAdjust="spacingAndGlyphs">PC</text><text x="10.20" y="0" font-size="8" textLength="13.55" lengthAdjust="spacingAndGlyphs">34:1</text></g>
<g transform="translate(125.20,152.60) rotate(-90) scale(1,0.9)" stroke="#231f20" stroke-width="0.2"><text x="0" y="0" font-size="8" textLength="8.4" lengthAdjust="spacingAndGlyphs">PC</text><text x="10.20" y="0" font-size="8" textLength="15.90" lengthAdjust="spacingAndGlyphs">34:2</text></g>
<g transform="translate(132.24,152.60) rotate(-90) scale(1,0.9)" stroke="#231f20" stroke-width="0.2"><text x="0" y="0" font-size="8" textLength="8.4" lengthAdjust="spacingAndGlyphs">PC</text><text x="10.20" y="0" font-size="8" textLength="13.80" lengthAdjust="spacingAndGlyphs">36:1</text></g>
<g transform="translate(139.28,152.60) rotate(-90) scale(1,0.9)" stroke="#231f20" stroke-width="0.2"><text x="0" y="0" font-size="8" textLength="8.4" lengthAdjust="spacingAndGlyphs">PC</text><text x="10.20" y="0" font-size="8" textLength="16.15" lengthAdjust="spacingAndGlyphs">36:2</text></g>
<g transform="translate(146.32,152.60) rotate(-90) scale(1,0.9)" stroke="#231f20" stroke-width="0.2"><text x="0" y="0" font-size="8" textLength="8.4" lengthAdjust="spacingAndGlyphs">PC</text><text x="10.20" y="0" font-size="8" textLength="15.90" lengthAdjust="spacingAndGlyphs">38:4</text></g>
<g transform="translate(153.36,152.60) rotate(-90) scale(1,0.9)" stroke="#231f20" stroke-width="0.2"><text x="0" y="0" font-size="8" textLength="7.2" lengthAdjust="spacingAndGlyphs">PE</text><text x="9.00" y="0" font-size="8" textLength="13.80" lengthAdjust="spacingAndGlyphs">32:1</text></g>
<g transform="translate(160.40,152.60) rotate(-90) scale(1,0.9)" stroke="#231f20" stroke-width="0.2"><text x="0" y="0" font-size="8" textLength="7.2" lengthAdjust="spacingAndGlyphs">PE</text><text x="9.00" y="0" font-size="8" textLength="13.55" lengthAdjust="spacingAndGlyphs">34:1</text></g>
<g transform="translate(167.44,152.60) rotate(-90) scale(1,0.9)" stroke="#231f20" stroke-width="0.2"><text x="0" y="0" font-size="8" textLength="7.2" lengthAdjust="spacingAndGlyphs">PE</text><text x="9.00" y="0" font-size="8" textLength="15.90" lengthAdjust="spacingAndGlyphs">34:2</text></g>
<g transform="translate(174.48,152.60) rotate(-90) scale(1,0.9)" stroke="#231f20" stroke-width="0.2"><text x="0" y="0" font-size="8" textLength="7.2" lengthAdjust="spacingAndGlyphs">PE</text><text x="9.00" y="0" font-size="8" textLength="13.80" lengthAdjust="spacingAndGlyphs">36:1</text></g>
<g transform="translate(181.52,152.60) rotate(-90) scale(1,0.9)" stroke="#231f20" stroke-width="0.2"><text x="0" y="0" font-size="8" textLength="7.2" lengthAdjust="spacingAndGlyphs">PE</text><text x="9.00" y="0" font-size="8" textLength="16.15" lengthAdjust="spacingAndGlyphs">36:2</text></g>
<g transform="translate(188.56,152.60) rotate(-90) scale(1,0.9)" stroke="#231f20" stroke-width="0.2"><text x="0" y="0" font-size="8" textLength="7.2" lengthAdjust="spacingAndGlyphs">PE</text><text x="9.00" y="0" font-size="8" textLength="15.90" lengthAdjust="spacingAndGlyphs">38:4</text></g>
<g transform="translate(195.60,152.60) rotate(-90) scale(1,0.9)" stroke="#231f20" stroke-width="0.2"><text x="0" y="0" font-size="8" textLength="5.9" lengthAdjust="spacingAndGlyphs">PI</text><text x="7.70" y="0" font-size="8" textLength="13.55" lengthAdjust="spacingAndGlyphs">34:1</text></g>
<g transform="translate(202.64,152.60) rotate(-90) scale(1,0.9)" stroke="#231f20" stroke-width="0.2"><text x="0" y="0" font-size="8" textLength="5.9" lengthAdjust="spacingAndGlyphs">PI</text><text x="7.70" y="0" font-size="8" textLength="15.90" lengthAdjust="spacingAndGlyphs">34:2</text></g>
<g transform="translate(209.68,152.60) rotate(-90) scale(1,0.9)" stroke="#231f20" stroke-width="0.2"><text x="0" y="0" font-size="8" textLength="5.9" lengthAdjust="spacingAndGlyphs">PI</text><text x="7.70" y="0" font-size="8" textLength="13.80" lengthAdjust="spacingAndGlyphs">36:1</text></g>
<g transform="translate(216.72,152.60) rotate(-90) scale(1,0.9)" stroke="#231f20" stroke-width="0.2"><text x="0" y="0" font-size="8" textLength="5.9" lengthAdjust="spacingAndGlyphs">PI</text><text x="7.70" y="0" font-size="8" textLength="16.15" lengthAdjust="spacingAndGlyphs">36:2</text></g>
<g transform="translate(223.76,152.60) rotate(-90) scale(1,0.9)" stroke="#231f20" stroke-width="0.2"><text x="0" y="0" font-size="8" textLength="5.9" lengthAdjust="spacingAndGlyphs">PI</text><text x="7.70" y="0" font-size="8" textLength="16.15" lengthAdjust="spacingAndGlyphs">38:3</text></g>
<g transform="translate(230.80,152.60) rotate(-90) scale(1,0.9)" stroke="#231f20" stroke-width="0.2"><text x="0" y="0" font-size="8" textLength="5.9" lengthAdjust="spacingAndGlyphs">PI</text><text x="7.70" y="0" font-size="8" textLength="15.90" lengthAdjust="spacingAndGlyphs">38:4</text></g>
<g transform="translate(237.84,152.60) rotate(-90) scale(1,0.9)" stroke="#231f20" stroke-width="0.2"><text x="0" y="0" font-size="8" textLength="8.6" lengthAdjust="spacingAndGlyphs">PG</text><text x="10.40" y="0" font-size="8" textLength="13.80" lengthAdjust="spacingAndGlyphs">32:1</text></g>
<g transform="translate(244.88,152.60) rotate(-90) scale(1,0.9)" stroke="#231f20" stroke-width="0.2"><text x="0" y="0" font-size="8" textLength="8.6" lengthAdjust="spacingAndGlyphs">PG</text><text x="10.40" y="0" font-size="8" textLength="13.55" lengthAdjust="spacingAndGlyphs">34:1</text></g>
<g transform="translate(251.92,152.60) rotate(-90) scale(1,0.9)" stroke="#231f20" stroke-width="0.2"><text x="0" y="0" font-size="8" textLength="8.6" lengthAdjust="spacingAndGlyphs">PG</text><text x="10.40" y="0" font-size="8" textLength="13.80" lengthAdjust="spacingAndGlyphs">36:1</text></g>
<g transform="translate(258.96,152.60) rotate(-90) scale(1,0.9)" stroke="#231f20" stroke-width="0.2"><text x="0" y="0" font-size="8" textLength="8.0" lengthAdjust="spacingAndGlyphs">PS</text><text x="9.80" y="0" font-size="8" textLength="13.80" lengthAdjust="spacingAndGlyphs">32:1</text></g>
<g transform="translate(266.00,152.60) rotate(-90) scale(1,0.9)" stroke="#231f20" stroke-width="0.2"><text x="0" y="0" font-size="8" textLength="8.0" lengthAdjust="spacingAndGlyphs">PS</text><text x="9.80" y="0" font-size="8" textLength="13.55" lengthAdjust="spacingAndGlyphs">34:1</text></g>
<g transform="translate(273.04,152.60) rotate(-90) scale(1,0.9)" stroke="#231f20" stroke-width="0.2"><text x="0" y="0" font-size="8" textLength="8.0" lengthAdjust="spacingAndGlyphs">PS</text><text x="9.80" y="0" font-size="8" textLength="13.80" lengthAdjust="spacingAndGlyphs">36:1</text></g>
<g transform="translate(280.08,152.60) rotate(-90) scale(1,0.9)" stroke="#231f20" stroke-width="0.2"><text x="0" y="0" font-size="8" textLength="8.0" lengthAdjust="spacingAndGlyphs">PS</text><text x="9.80" y="0" font-size="8" textLength="16.15" lengthAdjust="spacingAndGlyphs">36:2</text></g>
<text x="31.60" y="161.70" font-size="7.1" text-anchor="end"  stroke="#231f20" stroke-width="0.18">PM-</text>
<text x="31.60" y="168.40" font-size="7.1" text-anchor="end"  stroke="#231f20" stroke-width="0.18">deadPLD</text>
<text x="31.70" y="174.90" font-size="7.0" text-anchor="end"  stroke="#231f20" stroke-width="0.18">(total)</text>
<text x="31.60" y="182.15" font-size="7.1" text-anchor="end"  stroke="#231f20" stroke-width="0.18">PM-</text>
<text x="31.60" y="188.85" font-size="7.1" text-anchor="end"  stroke="#231f20" stroke-width="0.18">superPLD</text>
<text x="31.70" y="195.35" font-size="7.0" text-anchor="end"  stroke="#231f20" stroke-width="0.18">(total)</text>
<text x="31.60" y="202.60" font-size="7.1" text-anchor="end"  stroke="#231f20" stroke-width="0.18">Lyso-</text>
<text x="31.60" y="209.30" font-size="7.1" text-anchor="end"  stroke="#231f20" stroke-width="0.18">deadPLD</text>
<text x="31.70" y="215.80" font-size="7.0" text-anchor="end"  stroke="#231f20" stroke-width="0.18">(total)</text>
<text x="31.60" y="223.05" font-size="7.1" text-anchor="end"  stroke="#231f20" stroke-width="0.18">Lyso-</text>
<text x="31.60" y="229.75" font-size="7.1" text-anchor="end"  stroke="#231f20" stroke-width="0.18">superPLD</text>
<text x="31.70" y="236.25" font-size="7.0" text-anchor="end"  stroke="#231f20" stroke-width="0.18">(total)</text>
<defs><linearGradient id="gc" x1="0" y1="0" x2="0" y2="1"><stop offset="0" stop-color="#ff0000"/><stop offset="0.598" stop-color="#ffffff"/><stop offset="1" stop-color="#0000ff"/></linearGradient></defs>
<rect x="288" y="153.7" width="4.1" height="81.5" fill="url(#gc)"/>
<line x1="292.10" y1="153.90" x2="295.50" y2="153.90" stroke="#555" stroke-width="0.6"/>
<line x1="292.10" y1="164.40" x2="293.90" y2="164.40" stroke="#555" stroke-width="0.6"/>
<line x1="292.10" y1="202.60" x2="295.50" y2="202.60" stroke="#555" stroke-width="0.6"/>
<line x1="292.10" y1="207.40" x2="293.90" y2="207.40" stroke="#555" stroke-width="0.6"/>
<line x1="292.10" y1="213.80" x2="293.90" y2="213.80" stroke="#555" stroke-width="0.6"/>
<line x1="292.10" y1="221.00" x2="293.90" y2="221.00" stroke="#555" stroke-width="0.6"/>
<line x1="292.10" y1="229.30" x2="293.90" y2="229.30" stroke="#555" stroke-width="0.6"/>
<line x1="292.10" y1="235.00" x2="295.50" y2="235.00" stroke="#555" stroke-width="0.6"/>
<text x="298.30" y="156.20" font-size="7.0" textLength="14.6" lengthAdjust="spacingAndGlyphs"  stroke="#231f20" stroke-width="0.18">2.44</text>
<text x="298.30" y="205.10" font-size="7.0"  stroke="#231f20" stroke-width="0.18">1</text>
<text x="298.30" y="237.60" font-size="7.0" textLength="14.6" lengthAdjust="spacingAndGlyphs"  stroke="#231f20" stroke-width="0.18">0.54</text>
<text transform="translate(318,137.7) rotate(90)" font-size="8.7" stroke="#231f20" stroke-width="0.18" textLength="111" lengthAdjust="spacingAndGlyphs">Fold change in area of curve</text>
<text x="341.70" y="117.60" font-size="13" fill="#000" font-weight="bold" stroke="#000" stroke-width="0.35">d</text>
<rect x="483.8" y="141.8" width="67.9" height="14" fill="#e5e5e5"/>
<text x="518.10" y="151.50" font-size="8.8" text-anchor="middle" textLength="64.2" lengthAdjust="spacingAndGlyphs"  stroke="#231f20" stroke-width="0.18">Versus deadPLD</text>
<rect x="394.40" y="188.00" width="7.36" height="13.80" fill="#d0d0fa"/>
<rect x="401.46" y="188.00" width="7.36" height="13.80" fill="#b8b8f8"/>
<rect x="408.51" y="188.00" width="7.36" height="13.80" fill="#fff0f0"/>
<rect x="415.57" y="188.00" width="7.36" height="13.80" fill="#ffdcdc"/>
<rect x="422.63" y="188.00" width="7.36" height="13.80" fill="#ffe0e0"/>
<rect x="429.69" y="188.00" width="7.36" height="13.80" fill="#ffe4e4"/>
<rect x="436.74" y="188.00" width="7.36" height="13.80" fill="#ffc8c8"/>
<rect x="443.80" y="188.00" width="7.36" height="13.80" fill="#ffe4e4"/>
<rect x="450.86" y="188.00" width="7.36" height="13.80" fill="#ffe4e4"/>
<rect x="457.91" y="188.00" width="7.36" height="13.80" fill="#ffe8e8"/>
<rect x="464.97" y="188.00" width="7.36" height="13.80" fill="#fff0f0"/>
<rect x="472.03" y="188.00" width="7.36" height="13.80" fill="#fff0f0"/>
<rect x="479.09" y="188.00" width="7.36" height="13.80" fill="#fff4f4"/>
<rect x="486.14" y="188.00" width="7.36" height="13.80" fill="#fff8f8"/>
<rect x="493.20" y="188.00" width="7.36" height="13.80" fill="#f8f8ff"/>
<rect x="500.26" y="188.00" width="7.36" height="13.80" fill="#fff8f8"/>
<rect x="507.31" y="188.00" width="7.36" height="13.80" fill="#e4e4fc"/>
<rect x="514.37" y="188.00" width="7.36" height="13.80" fill="#fff8f8"/>
<rect x="521.43" y="188.00" width="7.36" height="13.80" fill="#d8d8fa"/>
<rect x="528.49" y="188.00" width="7.36" height="13.80" fill="#d8d8fa"/>
<rect x="535.54" y="188.00" width="7.36" height="13.80" fill="#c8c8fa"/>
<rect x="542.60" y="188.00" width="7.36" height="13.80" fill="#ffe4e4"/>
<rect x="549.66" y="188.00" width="7.36" height="13.80" fill="#9090f5"/>
<rect x="556.71" y="188.00" width="7.36" height="13.80" fill="#5858f4"/>
<rect x="563.77" y="188.00" width="7.36" height="13.80" fill="#a0a0f6"/>
<rect x="570.83" y="188.00" width="7.36" height="13.80" fill="#9090f5"/>
<rect x="577.89" y="188.00" width="7.36" height="13.80" fill="#e0e0fc"/>
<rect x="584.94" y="188.00" width="7.36" height="13.80" fill="#fff4f4"/>
<rect x="592.00" y="188.00" width="7.36" height="13.80" fill="#ff2020"/>
<rect x="599.06" y="188.00" width="7.36" height="13.80" fill="#ffd0d0"/>
<rect x="606.11" y="188.00" width="7.36" height="13.80" fill="#ff9090"/>
<rect x="613.17" y="188.00" width="7.36" height="13.80" fill="#ececfd"/>
<rect x="620.23" y="188.00" width="7.36" height="13.80" fill="#fafaff"/>
<rect x="627.29" y="188.00" width="7.36" height="13.80" fill="#fff4f4"/>
<rect x="634.34" y="188.00" width="7.36" height="13.80" fill="#ececfd"/>
<rect x="394.40" y="201.50" width="49.70" height="6.80" fill="#ffe4e4"/>
<rect x="443.80" y="201.50" width="63.81" height="6.80" fill="#ffecec"/>
<rect x="507.31" y="201.50" width="42.64" height="6.80" fill="#e8e8fc"/>
<rect x="549.66" y="201.50" width="42.64" height="6.80" fill="#b8b8f8"/>
<rect x="592.00" y="201.50" width="21.47" height="6.80" fill="#ff7070"/>
<rect x="613.17" y="201.50" width="28.53" height="6.80" fill="#fafaff"/>
<rect x="394.40" y="208.30" width="7.36" height="13.90" fill="#3838f0"/>
<rect x="401.46" y="208.30" width="7.36" height="13.90" fill="#1818f0"/>
<rect x="408.51" y="208.30" width="7.36" height="13.90" fill="#4040f2"/>
<rect x="415.57" y="208.30" width="7.36" height="13.90" fill="#c0c0f8"/>
<rect x="422.63" y="208.30" width="7.36" height="13.90" fill="#ffdcdc"/>
<rect x="429.69" y="208.30" width="7.36" height="13.90" fill="#b0b0f8"/>
<rect x="436.74" y="208.30" width="7.36" height="13.90" fill="#ffd8d8"/>
<rect x="443.80" y="208.30" width="7.36" height="13.90" fill="#ececfd"/>
<rect x="450.86" y="208.30" width="7.36" height="13.90" fill="#fafaff"/>
<rect x="457.91" y="208.30" width="7.36" height="13.90" fill="#fff0f0"/>
<rect x="464.97" y="208.30" width="7.36" height="13.90" fill="#fdfdff"/>
<rect x="472.03" y="208.30" width="7.36" height="13.90" fill="#ffffff"/>
<rect x="479.09" y="208.30" width="7.36" height="13.90" fill="#fffafa"/>
<rect x="486.14" y="208.30" width="7.36" height="13.90" fill="#ececfd"/>
<rect x="493.20" y="208.30" width="7.36" height="13.90" fill="#ececfd"/>
<rect x="500.26" y="208.30" width="7.36" height="13.90" fill="#fafaff"/>
<rect x="507.31" y="208.30" width="7.36" height="13.90" fill="#d0d0fa"/>
<rect x="514.37" y="208.30" width="7.36" height="13.90" fill="#ececfd"/>
<rect x="521.43" y="208.30" width="7.36" height="13.90" fill="#ececfd"/>
<rect x="528.49" y="208.30" width="7.36" height="13.90" fill="#fff0f0"/>
<rect x="535.54" y="208.30" width="7.36" height="13.90" fill="#fff0f0"/>
<rect x="542.60" y="208.30" width="7.36" height="13.90" fill="#ffe4e4"/>
<rect x="549.66" y="208.30" width="7.36" height="13.90" fill="#7878f5"/>
<rect x="556.71" y="208.30" width="7.36" height="13.90" fill="#7070f5"/>
<rect x="563.77" y="208.30" width="7.36" height="13.90" fill="#b0b0f8"/>
<rect x="570.83" y="208.30" width="7.36" height="13.90" fill="#b0b0f8"/>
<rect x="577.89" y="208.30" width="7.36" height="13.90" fill="#ffd8d8"/>
<rect x="584.94" y="208.30" width="7.36" height="13.90" fill="#fff8f8"/>
<rect x="592.00" y="208.30" width="7.36" height="13.90" fill="#ff0000"/>
<rect x="599.06" y="208.30" width="7.36" height="13.90" fill="#ffd0d0"/>
<rect x="606.11" y="208.30" width="7.36" height="13.90" fill="#ff6060"/>
<rect x="613.17" y="208.30" width="7.36" height="13.90" fill="#ececfd"/>
<rect x="620.23" y="208.30" width="7.36" height="13.90" fill="#f4f4fe"/>
<rect x="627.29" y="208.30" width="7.36" height="13.90" fill="#fff8f8"/>
<rect x="634.34" y="208.30" width="7.36" height="13.90" fill="#fafaff"/>
<rect x="394.40" y="221.90" width="49.70" height="6.30" fill="#c0c0f8"/>
<rect x="443.80" y="221.90" width="63.81" height="6.30" fill="#fafaff"/>
<rect x="507.31" y="221.90" width="42.64" height="6.30" fill="#ffffff"/>
<rect x="549.66" y="221.90" width="42.64" height="6.30" fill="#d0d0fa"/>
<rect x="592.00" y="221.90" width="21.47" height="6.30" fill="#ff6060"/>
<rect x="613.17" y="221.90" width="28.53" height="6.30" fill="#fafaff"/>
<line x1="443.80" y1="188.00" x2="443.80" y2="228.20" stroke="#231f20" stroke-width="0.8"/>
<line x1="507.31" y1="188.00" x2="507.31" y2="228.20" stroke="#231f20" stroke-width="0.8"/>
<line x1="549.66" y1="188.00" x2="549.66" y2="228.20" stroke="#231f20" stroke-width="0.8"/>
<line x1="592.00" y1="188.00" x2="592.00" y2="228.20" stroke="#231f20" stroke-width="0.8"/>
<line x1="613.17" y1="188.00" x2="613.17" y2="228.20" stroke="#231f20" stroke-width="0.8"/>
<line x1="394.40" y1="208.30" x2="641.40" y2="208.30" stroke="#231f20" stroke-width="0.8"/>
<rect x="394.40" y="188.00" width="247.00" height="40.20" fill="none" stroke="#555" stroke-width="0.7"/>
<g transform="translate(398.93,185.20) rotate(-90) scale(1,0.9)" stroke="#231f20" stroke-width="0.2"><text x="0" y="0" font-size="8" textLength="7.0" lengthAdjust="spacingAndGlyphs">PA</text><text x="8.80" y="0" font-size="8" textLength="16.15" lengthAdjust="spacingAndGlyphs">30:0</text></g>
<g transform="translate(405.99,185.20) rotate(-90) scale(1,0.9)" stroke="#231f20" stroke-width="0.2"><text x="0" y="0" font-size="8" textLength="7.0" lengthAdjust="spacingAndGlyphs">PA</text><text x="8.80" y="0" font-size="8" textLength="16.15" lengthAdjust="spacingAndGlyphs">32:0</text></g>
<g transform="translate(413.04,185.20) rotate(-90) scale(1,0.9)" stroke="#231f20" stroke-width="0.2"><text x="0" y="0" font-size="8" textLength="7.0" lengthAdjust="spacingAndGlyphs">PA</text><text x="8.80" y="0" font-size="8" textLength="13.80" lengthAdjust="spacingAndGlyphs">32:1</text></g>
<g transform="translate(420.10,185.20) rotate(-90) scale(1,0.9)" stroke="#231f20" stroke-width="0.2"><text x="0" y="0" font-size="8" textLength="7.0" lengthAdjust="spacingAndGlyphs">PA</text><text x="8.80" y="0" font-size="8" textLength="13.55" lengthAdjust="spacingAndGlyphs">34:1</text></g>
<g transform="translate(427.16,185.20) rotate(-90) scale(1,0.9)" stroke="#231f20" stroke-width="0.2"><text x="0" y="0" font-size="8" textLength="7.0" lengthAdjust="spacingAndGlyphs">PA</text><text x="8.80" y="0" font-size="8" textLength="15.90" lengthAdjust="spacingAndGlyphs">34:2</text></g>
<g transform="translate(434.21,185.20) rotate(-90) scale(1,0.9)" stroke="#231f20" stroke-width="0.2"><text x="0" y="0" font-size="8" textLength="7.0" lengthAdjust="spacingAndGlyphs">PA</text><text x="8.80" y="0" font-size="8" textLength="13.80" lengthAdjust="spacingAndGlyphs">36:1</text></g>
<g transform="translate(441.27,185.20) rotate(-90) scale(1,0.9)" stroke="#231f20" stroke-width="0.2"><text x="0" y="0" font-size="8" textLength="7.0" lengthAdjust="spacingAndGlyphs">PA</text><text x="8.80" y="0" font-size="8" textLength="16.15" lengthAdjust="spacingAndGlyphs">36:2</text></g>
<g transform="translate(448.33,185.20) rotate(-90) scale(1,0.9)" stroke="#231f20" stroke-width="0.2"><text x="0" y="0" font-size="8" textLength="8.4" lengthAdjust="spacingAndGlyphs">PC</text><text x="10.20" y="0" font-size="8" textLength="16.15" lengthAdjust="spacingAndGlyphs">30:0</text></g>
<g transform="translate(455.39,185.20) rotate(-90) scale(1,0.9)" stroke="#231f20" stroke-width="0.2"><text x="0" y="0" font-size="8" textLength="8.4" lengthAdjust="spacingAndGlyphs">PC</text><text x="10.20" y="0" font-size="8" textLength="13.80" lengthAdjust="spacingAndGlyphs">30:1</text></g>
<g transform="translate(462.44,185.20) rotate(-90) scale(1,0.9)" stroke="#231f20" stroke-width="0.2"><text x="0" y="0" font-size="8" textLength="8.4" lengthAdjust="spacingAndGlyphs">PC</text><text x="10.20" y="0" font-size="8" textLength="16.15" lengthAdjust="spacingAndGlyphs">32:0</text></g>
<g transform="translate(469.50,185.20) rotate(-90) scale(1,0.9)" stroke="#231f20" stroke-width="0.2"><text x="0" y="0" font-size="8" textLength="8.4" lengthAdjust="spacingAndGlyphs">PC</text><text x="10.20" y="0" font-size="8" textLength="13.80" lengthAdjust="spacingAndGlyphs">32:1</text></g>
<g transform="translate(476.56,185.20) rotate(-90) scale(1,0.9)" stroke="#231f20" stroke-width="0.2"><text x="0" y="0" font-size="8" textLength="8.4" lengthAdjust="spacingAndGlyphs">PC</text><text x="10.20" y="0" font-size="8" textLength="13.55" lengthAdjust="spacingAndGlyphs">34:1</text></g>
<g transform="translate(483.61,185.20) rotate(-90) scale(1,0.9)" stroke="#231f20" stroke-width="0.2"><text x="0" y="0" font-size="8" textLength="8.4" lengthAdjust="spacingAndGlyphs">PC</text><text x="10.20" y="0" font-size="8" textLength="15.90" lengthAdjust="spacingAndGlyphs">34:2</text></g>
<g transform="translate(490.67,185.20) rotate(-90) scale(1,0.9)" stroke="#231f20" stroke-width="0.2"><text x="0" y="0" font-size="8" textLength="8.4" lengthAdjust="spacingAndGlyphs">PC</text><text x="10.20" y="0" font-size="8" textLength="13.80" lengthAdjust="spacingAndGlyphs">36:1</text></g>
<g transform="translate(497.73,185.20) rotate(-90) scale(1,0.9)" stroke="#231f20" stroke-width="0.2"><text x="0" y="0" font-size="8" textLength="8.4" lengthAdjust="spacingAndGlyphs">PC</text><text x="10.20" y="0" font-size="8" textLength="16.15" lengthAdjust="spacingAndGlyphs">36:2</text></g>
<g transform="translate(504.79,185.20) rotate(-90) scale(1,0.9)" stroke="#231f20" stroke-width="0.2"><text x="0" y="0" font-size="8" textLength="8.4" lengthAdjust="spacingAndGlyphs">PC</text><text x="10.20" y="0" font-size="8" textLength="15.90" lengthAdjust="spacingAndGlyphs">38:4</text></g>
<g transform="translate(511.84,185.20) rotate(-90) scale(1,0.9)" stroke="#231f20" stroke-width="0.2"><text x="0" y="0" font-size="8" textLength="7.2" lengthAdjust="spacingAndGlyphs">PE</text><text x="9.00" y="0" font-size="8" textLength="13.80" lengthAdjust="spacingAndGlyphs">32:1</text></g>
<g transform="translate(518.90,185.20) rotate(-90) scale(1,0.9)" stroke="#231f20" stroke-width="0.2"><text x="0" y="0" font-size="8" textLength="7.2" lengthAdjust="spacingAndGlyphs">PE</text><text x="9.00" y="0" font-size="8" textLength="13.55" lengthAdjust="spacingAndGlyphs">34:1</text></g>
<g transform="translate(525.96,185.20) rotate(-90) scale(1,0.9)" stroke="#231f20" stroke-width="0.2"><text x="0" y="0" font-size="8" textLength="7.2" lengthAdjust="spacingAndGlyphs">PE</text><text x="9.00" y="0" font-size="8" textLength="15.90" lengthAdjust="spacingAndGlyphs">34:2</text></g>
<g transform="translate(533.01,185.20) rotate(-90) scale(1,0.9)" stroke="#231f20" stroke-width="0.2"><text x="0" y="0" font-size="8" textLength="7.2" lengthAdjust="spacingAndGlyphs">PE</text><text x="9.00" y="0" font-size="8" textLength="13.80" lengthAdjust="spacingAndGlyphs">36:1</text></g>
<g transform="translate(540.07,185.20) rotate(-90) scale(1,0.9)" stroke="#231f20" stroke-width="0.2"><text x="0" y="0" font-size="8" textLength="7.2" lengthAdjust="spacingAndGlyphs">PE</text><text x="9.00" y="0" font-size="8" textLength="16.15" lengthAdjust="spacingAndGlyphs">36:2</text></g>
<g transform="translate(547.13,185.20) rotate(-90) scale(1,0.9)" stroke="#231f20" stroke-width="0.2"><text x="0" y="0" font-size="8" textLength="7.2" lengthAdjust="spacingAndGlyphs">PE</text><text x="9.00" y="0" font-size="8" textLength="15.90" lengthAdjust="spacingAndGlyphs">38:4</text></g>
<g transform="translate(554.19,185.20) rotate(-90) scale(1,0.9)" stroke="#231f20" stroke-width="0.2"><text x="0" y="0" font-size="8" textLength="5.9" lengthAdjust="spacingAndGlyphs">PI</text><text x="7.70" y="0" font-size="8" textLength="13.55" lengthAdjust="spacingAndGlyphs">34:1</text></g>
<g transform="translate(561.24,185.20) rotate(-90) scale(1,0.9)" stroke="#231f20" stroke-width="0.2"><text x="0" y="0" font-size="8" textLength="5.9" lengthAdjust="spacingAndGlyphs">PI</text><text x="7.70" y="0" font-size="8" textLength="15.90" lengthAdjust="spacingAndGlyphs">34:2</text></g>
<g transform="translate(568.30,185.20) rotate(-90) scale(1,0.9)" stroke="#231f20" stroke-width="0.2"><text x="0" y="0" font-size="8" textLength="5.9" lengthAdjust="spacingAndGlyphs">PI</text><text x="7.70" y="0" font-size="8" textLength="13.80" lengthAdjust="spacingAndGlyphs">36:1</text></g>
<g transform="translate(575.36,185.20) rotate(-90) scale(1,0.9)" stroke="#231f20" stroke-width="0.2"><text x="0" y="0" font-size="8" textLength="5.9" lengthAdjust="spacingAndGlyphs">PI</text><text x="7.70" y="0" font-size="8" textLength="16.15" lengthAdjust="spacingAndGlyphs">36:2</text></g>
<g transform="translate(582.41,185.20) rotate(-90) scale(1,0.9)" stroke="#231f20" stroke-width="0.2"><text x="0" y="0" font-size="8" textLength="5.9" lengthAdjust="spacingAndGlyphs">PI</text><text x="7.70" y="0" font-size="8" textLength="16.15" lengthAdjust="spacingAndGlyphs">38:3</text></g>
<g transform="translate(589.47,185.20) rotate(-90) scale(1,0.9)" stroke="#231f20" stroke-width="0.2"><text x="0" y="0" font-size="8" textLength="5.9" lengthAdjust="spacingAndGlyphs">PI</text><text x="7.70" y="0" font-size="8" textLength="15.90" lengthAdjust="spacingAndGlyphs">38:4</text></g>
<g transform="translate(596.53,185.20) rotate(-90) scale(1,0.9)" stroke="#231f20" stroke-width="0.2"><text x="0" y="0" font-size="8" textLength="8.6" lengthAdjust="spacingAndGlyphs">PG</text><text x="10.40" y="0" font-size="8" textLength="13.80" lengthAdjust="spacingAndGlyphs">32:1</text></g>
<g transform="translate(603.59,185.20) rotate(-90) scale(1,0.9)" stroke="#231f20" stroke-width="0.2"><text x="0" y="0" font-size="8" textLength="8.6" lengthAdjust="spacingAndGlyphs">PG</text><text x="10.40" y="0" font-size="8" textLength="13.55" lengthAdjust="spacingAndGlyphs">34:1</text></g>
<g transform="translate(610.64,185.20) rotate(-90) scale(1,0.9)" stroke="#231f20" stroke-width="0.2"><text x="0" y="0" font-size="8" textLength="8.6" lengthAdjust="spacingAndGlyphs">PG</text><text x="10.40" y="0" font-size="8" textLength="13.80" lengthAdjust="spacingAndGlyphs">36:1</text></g>
<g transform="translate(617.70,185.20) rotate(-90) scale(1,0.9)" stroke="#231f20" stroke-width="0.2"><text x="0" y="0" font-size="8" textLength="8.0" lengthAdjust="spacingAndGlyphs">PS</text><text x="9.80" y="0" font-size="8" textLength="13.80" lengthAdjust="spacingAndGlyphs">32:1</text></g>
<g transform="translate(624.76,185.20) rotate(-90) scale(1,0.9)" stroke="#231f20" stroke-width="0.2"><text x="0" y="0" font-size="8" textLength="8.0" lengthAdjust="spacingAndGlyphs">PS</text><text x="9.80" y="0" font-size="8" textLength="13.55" lengthAdjust="spacingAndGlyphs">34:1</text></g>
<g transform="translate(631.81,185.20) rotate(-90) scale(1,0.9)" stroke="#231f20" stroke-width="0.2"><text x="0" y="0" font-size="8" textLength="8.0" lengthAdjust="spacingAndGlyphs">PS</text><text x="9.80" y="0" font-size="8" textLength="13.80" lengthAdjust="spacingAndGlyphs">36:1</text></g>
<g transform="translate(638.87,185.20) rotate(-90) scale(1,0.9)" stroke="#231f20" stroke-width="0.2"><text x="0" y="0" font-size="8" textLength="8.0" lengthAdjust="spacingAndGlyphs">PS</text><text x="9.80" y="0" font-size="8" textLength="16.15" lengthAdjust="spacingAndGlyphs">36:2</text></g>
<text x="389.30" y="197.20" font-size="7.4" text-anchor="end" textLength="44.7" lengthAdjust="spacingAndGlyphs"  stroke="#231f20" stroke-width="0.18">PM-superPLD</text>
<text x="350.00" y="205.60" font-size="7.8" textLength="20.9" lengthAdjust="spacingAndGlyphs"  stroke="#231f20" stroke-width="0.18">+ light</text>
<text x="391.30" y="205.60" font-size="7.1" text-anchor="end" textLength="18.2" lengthAdjust="spacingAndGlyphs"  stroke="#231f20" stroke-width="0.18">(total)</text>
<text x="390.50" y="217.50" font-size="7.4" text-anchor="end" textLength="48.7" lengthAdjust="spacingAndGlyphs"  stroke="#231f20" stroke-width="0.18">Lyso-superPLD</text>
<text x="350.00" y="225.70" font-size="7.8" textLength="20.9" lengthAdjust="spacingAndGlyphs"  stroke="#231f20" stroke-width="0.18">+ light</text>
<text x="391.30" y="225.70" font-size="7.1" text-anchor="end" textLength="18.2" lengthAdjust="spacingAndGlyphs"  stroke="#231f20" stroke-width="0.18">(total)</text>
<defs><linearGradient id="gd" x1="0" y1="0" x2="0" y2="1"><stop offset="0" stop-color="#ff0000"/><stop offset="0.630" stop-color="#ffffff"/><stop offset="1" stop-color="#0000ff"/></linearGradient></defs>
<rect x="646.6" y="167.3" width="4.2" height="58.29999999999998" fill="url(#gd)"/>
<line x1="650.80" y1="167.50" x2="654.20" y2="167.50" stroke="#555" stroke-width="0.6"/>
<line x1="650.80" y1="171.80" x2="652.60" y2="171.80" stroke="#555" stroke-width="0.6"/>
<line x1="650.80" y1="176.10" x2="652.60" y2="176.10" stroke="#555" stroke-width="0.6"/>
<line x1="650.80" y1="182.00" x2="652.60" y2="182.00" stroke="#555" stroke-width="0.6"/>
<line x1="650.80" y1="190.20" x2="652.60" y2="190.20" stroke="#555" stroke-width="0.6"/>
<line x1="650.80" y1="204.80" x2="654.20" y2="204.80" stroke="#555" stroke-width="0.6"/>
<line x1="650.80" y1="206.10" x2="652.60" y2="206.10" stroke="#555" stroke-width="0.6"/>
<line x1="650.80" y1="208.50" x2="652.60" y2="208.50" stroke="#555" stroke-width="0.6"/>
<line x1="650.80" y1="211.20" x2="652.60" y2="211.20" stroke="#555" stroke-width="0.6"/>
<line x1="650.80" y1="214.20" x2="652.60" y2="214.20" stroke="#555" stroke-width="0.6"/>
<line x1="650.80" y1="217.90" x2="652.60" y2="217.90" stroke="#555" stroke-width="0.6"/>
<line x1="650.80" y1="222.30" x2="652.60" y2="222.30" stroke="#555" stroke-width="0.6"/>
<line x1="650.80" y1="225.40" x2="654.20" y2="225.40" stroke="#555" stroke-width="0.6"/>
<text x="656.20" y="170.60" font-size="7.0" textLength="14.5" lengthAdjust="spacingAndGlyphs"  stroke="#231f20" stroke-width="0.18">6.26</text>
<text x="656.20" y="207.30" font-size="7.0"  stroke="#231f20" stroke-width="0.18">1</text>
<text x="656.20" y="228.70" font-size="7.0" textLength="14.5" lengthAdjust="spacingAndGlyphs"  stroke="#231f20" stroke-width="0.18">0.34</text>
<text transform="translate(677.6,172.5) rotate(90)" font-size="8.7" stroke="#231f20" stroke-width="0.18" textLength="48.3" lengthAdjust="spacingAndGlyphs">Fold change</text>
<text x="0.00" y="263.90" font-size="13" fill="#000" font-weight="bold" stroke="#000" stroke-width="0.35">e</text>
<rect x="85" y="259.6" width="146.9" height="13.4" fill="#e3f2ea"/>
<text x="157.10" y="269.60" font-size="8.8" text-anchor="middle" textLength="141.2" lengthAdjust="spacingAndGlyphs"  stroke="#231f20" stroke-width="0.18">Versus PM-superPLD in control HEK</text>
<rect x="42.70" y="306.50" width="8.00" height="11.40" fill="#6c6cf5"/>
<rect x="50.40" y="306.50" width="8.00" height="11.40" fill="#0000f0"/>
<rect x="58.09" y="306.50" width="8.00" height="11.40" fill="#b0b0f8"/>
<rect x="65.79" y="306.50" width="8.00" height="11.40" fill="#4c4cf4"/>
<rect x="73.49" y="306.50" width="8.00" height="11.40" fill="#0808f0"/>
<rect x="81.18" y="306.50" width="8.00" height="11.40" fill="#e0e0fc"/>
<rect x="88.88" y="306.50" width="8.00" height="11.40" fill="#e8e8fc"/>
<rect x="96.58" y="306.50" width="8.00" height="11.40" fill="#fff0f0"/>
<rect x="104.27" y="306.50" width="8.00" height="11.40" fill="#ffe8e8"/>
<rect x="111.97" y="306.50" width="8.00" height="11.40" fill="#ffd0d0"/>
<rect x="119.67" y="306.50" width="8.00" height="11.40" fill="#ffc0c0"/>
<rect x="127.36" y="306.50" width="8.00" height="11.40" fill="#ff8c8c"/>
<rect x="135.06" y="306.50" width="8.00" height="11.40" fill="#ffdcdc"/>
<rect x="142.76" y="306.50" width="8.00" height="11.40" fill="#ffd0d0"/>
<rect x="150.45" y="306.50" width="8.00" height="11.40" fill="#ffe4e4"/>
<rect x="158.15" y="306.50" width="8.00" height="11.40" fill="#6c6cf5"/>
<rect x="165.85" y="306.50" width="8.00" height="11.40" fill="#7878f5"/>
<rect x="173.54" y="306.50" width="8.00" height="11.40" fill="#b0b0f8"/>
<rect x="181.24" y="306.50" width="8.00" height="11.40" fill="#ffe0e0"/>
<rect x="188.94" y="306.50" width="8.00" height="11.40" fill="#ffd0d0"/>
<rect x="196.63" y="306.50" width="8.00" height="11.40" fill="#ffb0b0"/>
<rect x="204.33" y="306.50" width="8.00" height="11.40" fill="#9090f5"/>
<rect x="212.03" y="306.50" width="8.00" height="11.40" fill="#b4b4f8"/>
<rect x="219.72" y="306.50" width="8.00" height="11.40" fill="#fcfcff"/>
<rect x="227.42" y="306.50" width="8.00" height="11.40" fill="#c0c0f8"/>
<rect x="235.12" y="306.50" width="8.00" height="11.40" fill="#ffd0d0"/>
<rect x="242.81" y="306.50" width="8.00" height="11.40" fill="#ffd0d0"/>
<rect x="250.51" y="306.50" width="8.00" height="11.40" fill="#e4e4fc"/>
<rect x="258.21" y="306.50" width="8.00" height="11.40" fill="#e4e4fc"/>
<rect x="265.90" y="306.50" width="8.00" height="11.40" fill="#c0c0f8"/>
<rect x="42.70" y="317.60" width="46.48" height="5.60" fill="#7c7cf5"/>
<rect x="88.88" y="317.60" width="69.57" height="5.60" fill="#ffe0e0"/>
<rect x="158.15" y="317.60" width="46.48" height="5.60" fill="#d8d8fa"/>
<rect x="204.33" y="317.60" width="46.48" height="5.60" fill="#dcdcfc"/>
<rect x="250.51" y="317.60" width="23.39" height="5.60" fill="#e0e0fc"/>
<rect x="42.70" y="323.20" width="8.00" height="12.10" fill="#5858f4"/>
<rect x="50.40" y="323.20" width="8.00" height="12.10" fill="#2020f0"/>
<rect x="58.09" y="323.20" width="8.00" height="12.10" fill="#d0d0fa"/>
<rect x="65.79" y="323.20" width="8.00" height="12.10" fill="#3c3cf2"/>
<rect x="73.49" y="323.20" width="8.00" height="12.10" fill="#6c6cf5"/>
<rect x="81.18" y="323.20" width="8.00" height="12.10" fill="#b0b0f8"/>
<rect x="88.88" y="323.20" width="8.00" height="12.10" fill="#ffecec"/>
<rect x="96.58" y="323.20" width="8.00" height="12.10" fill="#ffe0e0"/>
<rect x="104.27" y="323.20" width="8.00" height="12.10" fill="#e4e4fc"/>
<rect x="111.97" y="323.20" width="8.00" height="12.10" fill="#ffc4c4"/>
<rect x="119.67" y="323.20" width="8.00" height="12.10" fill="#ffa8a8"/>
<rect x="127.36" y="323.20" width="8.00" height="12.10" fill="#ff9090"/>
<rect x="135.06" y="323.20" width="8.00" height="12.10" fill="#ffdcdc"/>
<rect x="142.76" y="323.20" width="8.00" height="12.10" fill="#fff4f4"/>
<rect x="150.45" y="323.20" width="8.00" height="12.10" fill="#ff9090"/>
<rect x="158.15" y="323.20" width="8.00" height="12.10" fill="#a0a0f6"/>
<rect x="165.85" y="323.20" width="8.00" height="12.10" fill="#7878f5"/>
<rect x="173.54" y="323.20" width="8.00" height="12.10" fill="#e8e8fc"/>
<rect x="181.24" y="323.20" width="8.00" height="12.10" fill="#ffd0d0"/>
<rect x="188.94" y="323.20" width="8.00" height="12.10" fill="#ffc4c4"/>
<rect x="196.63" y="323.20" width="8.00" height="12.10" fill="#e8e8fc"/>
<rect x="204.33" y="323.20" width="8.00" height="12.10" fill="#ffffff"/>
<rect x="212.03" y="323.20" width="8.00" height="12.10" fill="#ffa0a0"/>
<rect x="219.72" y="323.20" width="8.00" height="12.10" fill="#ffa8a8"/>
<rect x="227.42" y="323.20" width="8.00" height="12.10" fill="#ffd8d8"/>
<rect x="235.12" y="323.20" width="8.00" height="12.10" fill="#ff6060"/>
<rect x="242.81" y="323.20" width="8.00" height="12.10" fill="#ff4848"/>
<rect x="250.51" y="323.20" width="8.00" height="12.10" fill="#a0a0f6"/>
<rect x="258.21" y="323.20" width="8.00" height="12.10" fill="#e4e4fc"/>
<rect x="265.90" y="323.20" width="8.00" height="12.10" fill="#a0a0f6"/>
<rect x="42.70" y="335.00" width="46.48" height="5.20" fill="#8080f5"/>
<rect x="88.88" y="335.00" width="69.57" height="5.20" fill="#ffdcdc"/>
<rect x="158.15" y="335.00" width="46.48" height="5.20" fill="#e0e0fc"/>
<rect x="204.33" y="335.00" width="46.48" height="5.20" fill="#ffa0a0"/>
<rect x="250.51" y="335.00" width="23.39" height="5.20" fill="#b8b8f8"/>
<rect x="42.70" y="340.20" width="8.00" height="12.10" fill="#6c6cf5"/>
<rect x="50.40" y="340.20" width="8.00" height="12.10" fill="#6c6cf5"/>
<rect x="58.09" y="340.20" width="8.00" height="12.10" fill="#e8e8fc"/>
<rect x="65.79" y="340.20" width="8.00" height="12.10" fill="#a0a0f6"/>
<rect x="73.49" y="340.20" width="8.00" height="12.10" fill="#b8b8f8"/>
<rect x="81.18" y="340.20" width="8.00" height="12.10" fill="#fff0f0"/>
<rect x="88.88" y="340.20" width="8.00" height="12.10" fill="#e4e4fc"/>
<rect x="96.58" y="340.20" width="8.00" height="12.10" fill="#ececfd"/>
<rect x="104.27" y="340.20" width="8.00" height="12.10" fill="#dcdcfc"/>
<rect x="111.97" y="340.20" width="8.00" height="12.10" fill="#fff0f0"/>
<rect x="119.67" y="340.20" width="8.00" height="12.10" fill="#ffa8a8"/>
<rect x="127.36" y="340.20" width="8.00" height="12.10" fill="#ffa0a0"/>
<rect x="135.06" y="340.20" width="8.00" height="12.10" fill="#ffc0c0"/>
<rect x="142.76" y="340.20" width="8.00" height="12.10" fill="#fffcfc"/>
<rect x="150.45" y="340.20" width="8.00" height="12.10" fill="#ffe4e4"/>
<rect x="158.15" y="340.20" width="8.00" height="12.10" fill="#8080f5"/>
<rect x="165.85" y="340.20" width="8.00" height="12.10" fill="#8080f5"/>
<rect x="173.54" y="340.20" width="8.00" height="12.10" fill="#c0c0f8"/>
<rect x="181.24" y="340.20" width="8.00" height="12.10" fill="#ffc8c8"/>
<rect x="188.94" y="340.20" width="8.00" height="12.10" fill="#ffd8d8"/>
<rect x="196.63" y="340.20" width="8.00" height="12.10" fill="#ffd0d0"/>
<rect x="204.33" y="340.20" width="8.00" height="12.10" fill="#4848f2"/>
<rect x="212.03" y="340.20" width="8.00" height="12.10" fill="#7070f5"/>
<rect x="219.72" y="340.20" width="8.00" height="12.10" fill="#d8d8fa"/>
<rect x="227.42" y="340.20" width="8.00" height="12.10" fill="#8080f5"/>
<rect x="235.12" y="340.20" width="8.00" height="12.10" fill="#e4e4fc"/>
<rect x="242.81" y="340.20" width="8.00" height="12.10" fill="#e4e4fc"/>
<rect x="250.51" y="340.20" width="8.00" height="12.10" fill="#d0d0fa"/>
<rect x="258.21" y="340.20" width="8.00" height="12.10" fill="#ffe0e0"/>
<rect x="265.90" y="340.20" width="8.00" height="12.10" fill="#ffdcdc"/>
<rect x="42.70" y="352.00" width="46.48" height="5.40" fill="#c4c4f8"/>
<rect x="88.88" y="352.00" width="69.57" height="5.40" fill="#ffe4e4"/>
<rect x="158.15" y="352.00" width="46.48" height="5.40" fill="#e0e0fc"/>
<rect x="204.33" y="352.00" width="46.48" height="5.40" fill="#b0b0f8"/>
<rect x="250.51" y="352.00" width="23.39" height="5.40" fill="#ffffff"/>
<rect x="42.70" y="357.40" width="8.00" height="11.70" fill="#e0e0fc"/>
<rect x="50.40" y="357.40" width="8.00" height="11.70" fill="#a0a0f6"/>
<rect x="58.09" y="357.40" width="8.00" height="11.70" fill="#ffc0c0"/>
<rect x="65.79" y="357.40" width="8.00" height="11.70" fill="#dcdcfc"/>
<rect x="73.49" y="357.40" width="8.00" height="11.70" fill="#f8f8ff"/>
<rect x="81.18" y="357.40" width="8.00" height="11.70" fill="#ff3030"/>
<rect x="88.88" y="357.40" width="8.00" height="11.70" fill="#d0d0fa"/>
<rect x="96.58" y="357.40" width="8.00" height="11.70" fill="#e4e4fc"/>
<rect x="104.27" y="357.40" width="8.00" height="11.70" fill="#d8d8fa"/>
<rect x="111.97" y="357.40" width="8.00" height="11.70" fill="#fff4f4"/>
<rect x="119.67" y="357.40" width="8.00" height="11.70" fill="#ffb0b0"/>
<rect x="127.36" y="357.40" width="8.00" height="11.70" fill="#ff9090"/>
<rect x="135.06" y="357.40" width="8.00" height="11.70" fill="#ff9898"/>
<rect x="142.76" y="357.40" width="8.00" height="11.70" fill="#ffc0c0"/>
<rect x="150.45" y="357.40" width="8.00" height="11.70" fill="#fff0f0"/>
<rect x="158.15" y="357.40" width="8.00" height="11.70" fill="#8888f5"/>
<rect x="165.85" y="357.40" width="8.00" height="11.70" fill="#8888f5"/>
<rect x="173.54" y="357.40" width="8.00" height="11.70" fill="#b8b8f8"/>
<rect x="181.24" y="357.40" width="8.00" height="11.70" fill="#ffd0d0"/>
<rect x="188.94" y="357.40" width="8.00" height="11.70" fill="#ffe4e4"/>
<rect x="196.63" y="357.40" width="8.00" height="11.70" fill="#ffd0d0"/>
<rect x="204.33" y="357.40" width="8.00" height="11.70" fill="#ffb0b0"/>
<rect x="212.03" y="357.40" width="8.00" height="11.70" fill="#ff8080"/>
<rect x="219.72" y="357.40" width="8.00" height="11.70" fill="#ff0000"/>
<rect x="227.42" y="357.40" width="8.00" height="11.70" fill="#ff7070"/>
<rect x="235.12" y="357.40" width="8.00" height="11.70" fill="#ff1010"/>
<rect x="242.81" y="357.40" width="8.00" height="11.70" fill="#ff3838"/>
<rect x="250.51" y="357.40" width="8.00" height="11.70" fill="#ffc0c0"/>
<rect x="258.21" y="357.40" width="8.00" height="11.70" fill="#ffb0b0"/>
<rect x="265.90" y="357.40" width="8.00" height="11.70" fill="#ff8080"/>
<rect x="42.70" y="368.80" width="46.48" height="5.70" fill="#ffe4e4"/>
<rect x="88.88" y="368.80" width="69.57" height="5.70" fill="#ffe4e4"/>
<rect x="158.15" y="368.80" width="46.48" height="5.70" fill="#e0e0fc"/>
<rect x="204.33" y="368.80" width="46.48" height="5.70" fill="#ff4848"/>
<rect x="250.51" y="368.80" width="23.39" height="5.70" fill="#ffa8a8"/>
<line x1="88.88" y1="306.50" x2="88.88" y2="374.50" stroke="#231f20" stroke-width="0.8"/>
<line x1="158.15" y1="306.50" x2="158.15" y2="374.50" stroke="#231f20" stroke-width="0.8"/>
<line x1="204.33" y1="306.50" x2="204.33" y2="374.50" stroke="#231f20" stroke-width="0.8"/>
<line x1="250.51" y1="306.50" x2="250.51" y2="374.50" stroke="#231f20" stroke-width="0.8"/>
<line x1="42.70" y1="323.20" x2="273.60" y2="323.20" stroke="#231f20" stroke-width="0.8"/>
<line x1="42.70" y1="340.20" x2="273.60" y2="340.20" stroke="#231f20" stroke-width="0.8"/>
<line x1="42.70" y1="357.40" x2="273.60" y2="357.40" stroke="#231f20" stroke-width="0.8"/>
<rect x="42.70" y="306.50" width="230.90" height="68.00" fill="none" stroke="#555" stroke-width="0.7"/>
<g transform="translate(47.35,302.00) rotate(-90) scale(1,0.98)" stroke="#231f20" stroke-width="0.2"><text x="0" y="0" font-size="8" textLength="7.0" lengthAdjust="spacingAndGlyphs">PA</text><text x="8.80" y="0" font-size="8" textLength="16.63" lengthAdjust="spacingAndGlyphs">30:0</text></g>
<g transform="translate(55.05,302.00) rotate(-90) scale(1,0.98)" stroke="#231f20" stroke-width="0.2"><text x="0" y="0" font-size="8" textLength="7.0" lengthAdjust="spacingAndGlyphs">PA</text><text x="8.80" y="0" font-size="8" textLength="16.63" lengthAdjust="spacingAndGlyphs">32:0</text></g>
<g transform="translate(62.74,302.00) rotate(-90) scale(1,0.98)" stroke="#231f20" stroke-width="0.2"><text x="0" y="0" font-size="8" textLength="7.0" lengthAdjust="spacingAndGlyphs">PA</text><text x="8.80" y="0" font-size="8" textLength="14.21" lengthAdjust="spacingAndGlyphs">32:1</text></g>
<g transform="translate(70.44,302.00) rotate(-90) scale(1,0.98)" stroke="#231f20" stroke-width="0.2"><text x="0" y="0" font-size="8" textLength="7.0" lengthAdjust="spacingAndGlyphs">PA</text><text x="8.80" y="0" font-size="8" textLength="13.96" lengthAdjust="spacingAndGlyphs">34:1</text></g>
<g transform="translate(78.14,302.00) rotate(-90) scale(1,0.98)" stroke="#231f20" stroke-width="0.2"><text x="0" y="0" font-size="8" textLength="7.0" lengthAdjust="spacingAndGlyphs">PA</text><text x="8.80" y="0" font-size="8" textLength="14.21" lengthAdjust="spacingAndGlyphs">36:1</text></g>
<g transform="translate(85.83,302.00) rotate(-90) scale(1,0.98)" stroke="#231f20" stroke-width="0.2"><text x="0" y="0" font-size="8" textLength="7.0" lengthAdjust="spacingAndGlyphs">PA</text><text x="8.80" y="0" font-size="8" textLength="16.63" lengthAdjust="spacingAndGlyphs">36:2</text></g>
<g transform="translate(93.53,302.00) rotate(-90) scale(1,0.98)" stroke="#231f20" stroke-width="0.2"><text x="0" y="0" font-size="8" textLength="8.4" lengthAdjust="spacingAndGlyphs">PC</text><text x="10.20" y="0" font-size="8" textLength="16.63" lengthAdjust="spacingAndGlyphs">30:0</text></g>
<g transform="translate(101.23,302.00) rotate(-90) scale(1,0.98)" stroke="#231f20" stroke-width="0.2"><text x="0" y="0" font-size="8" textLength="8.4" lengthAdjust="spacingAndGlyphs">PC</text><text x="10.20" y="0" font-size="8" textLength="14.21" lengthAdjust="spacingAndGlyphs">30:1</text></g>
<g transform="translate(108.92,302.00) rotate(-90) scale(1,0.98)" stroke="#231f20" stroke-width="0.2"><text x="0" y="0" font-size="8" textLength="8.4" lengthAdjust="spacingAndGlyphs">PC</text><text x="10.20" y="0" font-size="8" textLength="16.63" lengthAdjust="spacingAndGlyphs">32:0</text></g>
<g transform="translate(116.62,302.00) rotate(-90) scale(1,0.98)" stroke="#231f20" stroke-width="0.2"><text x="0" y="0" font-size="8" textLength="8.4" lengthAdjust="spacingAndGlyphs">PC</text><text x="10.20" y="0" font-size="8" textLength="14.21" lengthAdjust="spacingAndGlyphs">32:1</text></g>
<g transform="translate(124.32,302.00) rotate(-90) scale(1,0.98)" stroke="#231f20" stroke-width="0.2"><text x="0" y="0" font-size="8" textLength="8.4" lengthAdjust="spacingAndGlyphs">PC</text><text x="10.20" y="0" font-size="8" textLength="13.96" lengthAdjust="spacingAndGlyphs">34:1</text></g>
<g transform="translate(132.01,302.00) rotate(-90) scale(1,0.98)" stroke="#231f20" stroke-width="0.2"><text x="0" y="0" font-size="8" textLength="8.4" lengthAdjust="spacingAndGlyphs">PC</text><text x="10.20" y="0" font-size="8" textLength="16.38" lengthAdjust="spacingAndGlyphs">34:2</text></g>
<g transform="translate(139.71,302.00) rotate(-90) scale(1,0.98)" stroke="#231f20" stroke-width="0.2"><text x="0" y="0" font-size="8" textLength="8.4" lengthAdjust="spacingAndGlyphs">PC</text><text x="10.20" y="0" font-size="8" textLength="14.21" lengthAdjust="spacingAndGlyphs">36:1</text></g>
<g transform="translate(147.41,302.00) rotate(-90) scale(1,0.98)" stroke="#231f20" stroke-width="0.2"><text x="0" y="0" font-size="8" textLength="8.4" lengthAdjust="spacingAndGlyphs">PC</text><text x="10.20" y="0" font-size="8" textLength="16.63" lengthAdjust="spacingAndGlyphs">36:2</text></g>
<g transform="translate(155.10,302.00) rotate(-90) scale(1,0.98)" stroke="#231f20" stroke-width="0.2"><text x="0" y="0" font-size="8" textLength="8.4" lengthAdjust="spacingAndGlyphs">PC</text><text x="10.20" y="0" font-size="8" textLength="16.38" lengthAdjust="spacingAndGlyphs">38:4</text></g>
<g transform="translate(162.80,302.00) rotate(-90) scale(1,0.98)" stroke="#231f20" stroke-width="0.2"><text x="0" y="0" font-size="8" textLength="7.2" lengthAdjust="spacingAndGlyphs">PE</text><text x="9.00" y="0" font-size="8" textLength="14.21" lengthAdjust="spacingAndGlyphs">32:1</text></g>
<g transform="translate(170.50,302.00) rotate(-90) scale(1,0.98)" stroke="#231f20" stroke-width="0.2"><text x="0" y="0" font-size="8" textLength="7.2" lengthAdjust="spacingAndGlyphs">PE</text><text x="9.00" y="0" font-size="8" textLength="13.96" lengthAdjust="spacingAndGlyphs">34:1</text></g>
<g transform="translate(178.19,302.00) rotate(-90) scale(1,0.98)" stroke="#231f20" stroke-width="0.2"><text x="0" y="0" font-size="8" textLength="7.2" lengthAdjust="spacingAndGlyphs">PE</text><text x="9.00" y="0" font-size="8" textLength="16.38" lengthAdjust="spacingAndGlyphs">34:2</text></g>
<g transform="translate(185.89,302.00) rotate(-90) scale(1,0.98)" stroke="#231f20" stroke-width="0.2"><text x="0" y="0" font-size="8" textLength="7.2" lengthAdjust="spacingAndGlyphs">PE</text><text x="9.00" y="0" font-size="8" textLength="14.21" lengthAdjust="spacingAndGlyphs">36:1</text></g>
<g transform="translate(193.59,302.00) rotate(-90) scale(1,0.98)" stroke="#231f20" stroke-width="0.2"><text x="0" y="0" font-size="8" textLength="7.2" lengthAdjust="spacingAndGlyphs">PE</text><text x="9.00" y="0" font-size="8" textLength="16.63" lengthAdjust="spacingAndGlyphs">36:2</text></g>
<g transform="translate(201.28,302.00) rotate(-90) scale(1,0.98)" stroke="#231f20" stroke-width="0.2"><text x="0" y="0" font-size="8" textLength="7.2" lengthAdjust="spacingAndGlyphs">PE</text><text x="9.00" y="0" font-size="8" textLength="16.38" lengthAdjust="spacingAndGlyphs">38:4</text></g>
<g transform="translate(208.98,302.00) rotate(-90) scale(1,0.98)" stroke="#231f20" stroke-width="0.2"><text x="0" y="0" font-size="8" textLength="5.9" lengthAdjust="spacingAndGlyphs">PI</text><text x="7.70" y="0" font-size="8" textLength="13.96" lengthAdjust="spacingAndGlyphs">34:1</text></g>
<g transform="translate(216.68,302.00) rotate(-90) scale(1,0.98)" stroke="#231f20" stroke-width="0.2"><text x="0" y="0" font-size="8" textLength="5.9" lengthAdjust="spacingAndGlyphs">PI</text><text x="7.70" y="0" font-size="8" textLength="16.38" lengthAdjust="spacingAndGlyphs">34:2</text></g>
<g transform="translate(224.37,302.00) rotate(-90) scale(1,0.98)" stroke="#231f20" stroke-width="0.2"><text x="0" y="0" font-size="8" textLength="5.9" lengthAdjust="spacingAndGlyphs">PI</text><text x="7.70" y="0" font-size="8" textLength="14.21" lengthAdjust="spacingAndGlyphs">36:1</text></g>
<g transform="translate(232.07,302.00) rotate(-90) scale(1,0.98)" stroke="#231f20" stroke-width="0.2"><text x="0" y="0" font-size="8" textLength="5.9" lengthAdjust="spacingAndGlyphs">PI</text><text x="7.70" y="0" font-size="8" textLength="16.63" lengthAdjust="spacingAndGlyphs">36:2</text></g>
<g transform="translate(239.77,302.00) rotate(-90) scale(1,0.98)" stroke="#231f20" stroke-width="0.2"><text x="0" y="0" font-size="8" textLength="5.9" lengthAdjust="spacingAndGlyphs">PI</text><text x="7.70" y="0" font-size="8" textLength="16.63" lengthAdjust="spacingAndGlyphs">38:3</text></g>
<g transform="translate(247.46,302.00) rotate(-90) scale(1,0.98)" stroke="#231f20" stroke-width="0.2"><text x="0" y="0" font-size="8" textLength="5.9" lengthAdjust="spacingAndGlyphs">PI</text><text x="7.70" y="0" font-size="8" textLength="16.38" lengthAdjust="spacingAndGlyphs">38:4</text></g>
<g transform="translate(255.16,302.00) rotate(-90) scale(1,0.98)" stroke="#231f20" stroke-width="0.2"><text x="0" y="0" font-size="8" textLength="8.6" lengthAdjust="spacingAndGlyphs">PG</text><text x="10.40" y="0" font-size="8" textLength="14.21" lengthAdjust="spacingAndGlyphs">32:1</text></g>
<g transform="translate(262.86,302.00) rotate(-90) scale(1,0.98)" stroke="#231f20" stroke-width="0.2"><text x="0" y="0" font-size="8" textLength="8.6" lengthAdjust="spacingAndGlyphs">PG</text><text x="10.40" y="0" font-size="8" textLength="13.96" lengthAdjust="spacingAndGlyphs">34:1</text></g>
<g transform="translate(270.55,302.00) rotate(-90) scale(1,0.98)" stroke="#231f20" stroke-width="0.2"><text x="0" y="0" font-size="8" textLength="8.6" lengthAdjust="spacingAndGlyphs">PG</text><text x="10.40" y="0" font-size="8" textLength="14.21" lengthAdjust="spacingAndGlyphs">36:1</text></g>
<text x="38.00" y="315.10" font-size="7.3" text-anchor="end" textLength="13.3" lengthAdjust="spacingAndGlyphs"  stroke="#231f20" stroke-width="0.18">Nir2</text>
<text x="38.00" y="322.10" font-size="7.0" text-anchor="end"  stroke="#231f20" stroke-width="0.18">(total)</text>
<text x="38.00" y="332.10" font-size="7.3" text-anchor="end" textLength="17.5" lengthAdjust="spacingAndGlyphs"  stroke="#231f20" stroke-width="0.18">SCP2</text>
<text x="38.00" y="339.10" font-size="7.0" text-anchor="end"  stroke="#231f20" stroke-width="0.18">(total)</text>
<text x="38.00" y="349.10" font-size="7.3" text-anchor="end" textLength="22" lengthAdjust="spacingAndGlyphs"  stroke="#231f20" stroke-width="0.18">PDZD8</text>
<text x="38.00" y="356.10" font-size="7.0" text-anchor="end"  stroke="#231f20" stroke-width="0.18">(total)</text>
<text x="38.00" y="366.10" font-size="7.3" text-anchor="end" textLength="21.2" lengthAdjust="spacingAndGlyphs"  stroke="#231f20" stroke-width="0.18">ORP1L</text>
<text x="38.00" y="373.10" font-size="7.0" text-anchor="end"  stroke="#231f20" stroke-width="0.18">(total)</text>
<defs><linearGradient id="ge" x1="0" y1="0" x2="0" y2="1"><stop offset="0" stop-color="#ff0000"/><stop offset="0.364" stop-color="#ffffff"/><stop offset="1" stop-color="#0000ff"/></linearGradient></defs>
<rect x="281.5" y="303.2" width="4.0" height="68.60000000000002" fill="url(#ge)"/>
<line x1="285.50" y1="303.40" x2="288.90" y2="303.40" stroke="#555" stroke-width="0.6"/>
<line x1="285.50" y1="328.20" x2="288.90" y2="328.20" stroke="#555" stroke-width="0.6"/>
<line x1="285.50" y1="336.00" x2="287.30" y2="336.00" stroke="#555" stroke-width="0.6"/>
<line x1="285.50" y1="343.00" x2="287.30" y2="343.00" stroke="#555" stroke-width="0.6"/>
<line x1="285.50" y1="350.00" x2="287.30" y2="350.00" stroke="#555" stroke-width="0.6"/>
<line x1="285.50" y1="357.00" x2="287.30" y2="357.00" stroke="#555" stroke-width="0.6"/>
<line x1="285.50" y1="364.50" x2="287.30" y2="364.50" stroke="#555" stroke-width="0.6"/>
<line x1="285.50" y1="371.60" x2="288.90" y2="371.60" stroke="#555" stroke-width="0.6"/>
<text x="290.90" y="306.30" font-size="7.3" textLength="12.5" lengthAdjust="spacingAndGlyphs"  stroke="#231f20" stroke-width="0.18">1.47</text>
<text x="290.90" y="330.90" font-size="7.3"  stroke="#231f20" stroke-width="0.18">1</text>
<text x="290.90" y="374.40" font-size="7.3" textLength="12.5" lengthAdjust="spacingAndGlyphs"  stroke="#231f20" stroke-width="0.18">0.52</text>
<text transform="translate(329.6,308.5) rotate(90)" font-size="8.7" stroke="#231f20" stroke-width="0.18" textLength="58.4" lengthAdjust="spacingAndGlyphs">Fold change in</text>
<text transform="translate(319.4,310.9) rotate(90)" font-size="8.7" stroke="#231f20" stroke-width="0.18" textLength="53.5" lengthAdjust="spacingAndGlyphs">area of curve</text>
<text transform="translate(309.2,293) rotate(90)" font-size="8.7" stroke="#231f20" stroke-width="0.18" textLength="93.5" lengthAdjust="spacingAndGlyphs">(LTP versus control HEK)</text>
<text x="342.30" y="263.50" font-size="13" fill="#000" font-weight="bold" stroke="#000" stroke-width="0.35">f</text>
<rect x="419.4" y="260.1" width="149.4" height="13.5" fill="#e3f2ea"/>
<text x="493.60" y="269.90" font-size="8.6" text-anchor="middle" textLength="146.4" lengthAdjust="spacingAndGlyphs"  stroke="#231f20" stroke-width="0.18">Versus Lyso-superPLD in control HEK</text>
<rect x="379.00" y="306.60" width="7.99" height="11.40" fill="#e4e4fc"/>
<rect x="386.69" y="306.60" width="7.99" height="11.40" fill="#d0d0fa"/>
<rect x="394.37" y="306.60" width="7.99" height="11.40" fill="#9494f5"/>
<rect x="402.06" y="306.60" width="7.99" height="11.40" fill="#e4e4fc"/>
<rect x="409.75" y="306.60" width="7.99" height="11.40" fill="#ececfd"/>
<rect x="417.43" y="306.60" width="7.99" height="11.40" fill="#e4e4fc"/>
<rect x="425.12" y="306.60" width="7.99" height="11.40" fill="#ffe4e4"/>
<rect x="432.81" y="306.60" width="7.99" height="11.40" fill="#ffe4e4"/>
<rect x="440.49" y="306.60" width="7.99" height="11.40" fill="#ffd8d8"/>
<rect x="448.18" y="306.60" width="7.99" height="11.40" fill="#ffcccc"/>
<rect x="455.87" y="306.60" width="7.99" height="11.40" fill="#ffe4e4"/>
<rect x="463.55" y="306.60" width="7.99" height="11.40" fill="#f4f4fe"/>
<rect x="471.24" y="306.60" width="7.99" height="11.40" fill="#fcfcff"/>
<rect x="478.93" y="306.60" width="7.99" height="11.40" fill="#ffe8e8"/>
<rect x="486.61" y="306.60" width="7.99" height="11.40" fill="#ffe4e4"/>
<rect x="494.30" y="306.60" width="7.99" height="11.40" fill="#ffd8d8"/>
<rect x="501.99" y="306.60" width="7.99" height="11.40" fill="#ffe0e0"/>
<rect x="509.67" y="306.60" width="7.99" height="11.40" fill="#fff4f4"/>
<rect x="517.36" y="306.60" width="7.99" height="11.40" fill="#9898f5"/>
<rect x="525.05" y="306.60" width="7.99" height="11.40" fill="#a0a0f6"/>
<rect x="532.73" y="306.60" width="7.99" height="11.40" fill="#ffe4e4"/>
<rect x="540.42" y="306.60" width="7.99" height="11.40" fill="#0808f0"/>
<rect x="548.11" y="306.60" width="7.99" height="11.40" fill="#1c1cf0"/>
<rect x="555.79" y="306.60" width="7.99" height="11.40" fill="#1010f0"/>
<rect x="563.48" y="306.60" width="7.99" height="11.40" fill="#0000f0"/>
<rect x="571.17" y="306.60" width="7.99" height="11.40" fill="#3838f2"/>
<rect x="578.85" y="306.60" width="7.99" height="11.40" fill="#4040f2"/>
<rect x="586.54" y="306.60" width="7.99" height="11.40" fill="#7878f5"/>
<rect x="594.23" y="306.60" width="7.99" height="11.40" fill="#8c8cf5"/>
<rect x="601.91" y="306.60" width="7.99" height="11.40" fill="#5858f4"/>
<rect x="379.00" y="317.70" width="46.42" height="5.60" fill="#c8c8fa"/>
<rect x="425.12" y="317.70" width="69.48" height="5.60" fill="#ffe4e4"/>
<rect x="494.30" y="317.70" width="46.42" height="5.60" fill="#f0f0fe"/>
<rect x="540.42" y="317.70" width="46.42" height="5.60" fill="#1818f0"/>
<rect x="586.54" y="317.70" width="23.36" height="5.60" fill="#7070f5"/>
<rect x="379.00" y="323.30" width="7.99" height="12.10" fill="#fff0f0"/>
<rect x="386.69" y="323.30" width="7.99" height="12.10" fill="#b8b8f8"/>
<rect x="394.37" y="323.30" width="7.99" height="12.10" fill="#c8c8fa"/>
<rect x="402.06" y="323.30" width="7.99" height="12.10" fill="#fcfcff"/>
<rect x="409.75" y="323.30" width="7.99" height="12.10" fill="#f4f4fe"/>
<rect x="417.43" y="323.30" width="7.99" height="12.10" fill="#fff4f4"/>
<rect x="425.12" y="323.30" width="7.99" height="12.10" fill="#ffe0e0"/>
<rect x="432.81" y="323.30" width="7.99" height="12.10" fill="#ffd8d8"/>
<rect x="440.49" y="323.30" width="7.99" height="12.10" fill="#ffd8d8"/>
<rect x="448.18" y="323.30" width="7.99" height="12.10" fill="#ffc0c0"/>
<rect x="455.87" y="323.30" width="7.99" height="12.10" fill="#fff0f0"/>
<rect x="463.55" y="323.30" width="7.99" height="12.10" fill="#ececfd"/>
<rect x="471.24" y="323.30" width="7.99" height="12.10" fill="#f4f4fe"/>
<rect x="478.93" y="323.30" width="7.99" height="12.10" fill="#ffe8e8"/>
<rect x="486.61" y="323.30" width="7.99" height="12.10" fill="#ffe8e8"/>
<rect x="494.30" y="323.30" width="7.99" height="12.10" fill="#ffa0a0"/>
<rect x="501.99" y="323.30" width="7.99" height="12.10" fill="#ffd0d0"/>
<rect x="509.67" y="323.30" width="7.99" height="12.10" fill="#ffa8a8"/>
<rect x="517.36" y="323.30" width="7.99" height="12.10" fill="#b4b4f8"/>
<rect x="525.05" y="323.30" width="7.99" height="12.10" fill="#c0c0f8"/>
<rect x="532.73" y="323.30" width="7.99" height="12.10" fill="#e0e0fc"/>
<rect x="540.42" y="323.30" width="7.99" height="12.10" fill="#c0c0f8"/>
<rect x="548.11" y="323.30" width="7.99" height="12.10" fill="#e4e4fc"/>
<rect x="555.79" y="323.30" width="7.99" height="12.10" fill="#a8a8f6"/>
<rect x="563.48" y="323.30" width="7.99" height="12.10" fill="#a0a0f6"/>
<rect x="571.17" y="323.30" width="7.99" height="12.10" fill="#d8d8fa"/>
<rect x="578.85" y="323.30" width="7.99" height="12.10" fill="#f8f8ff"/>
<rect x="586.54" y="323.30" width="7.99" height="12.10" fill="#a0a0f6"/>
<rect x="594.23" y="323.30" width="7.99" height="12.10" fill="#a8a8f6"/>
<rect x="601.91" y="323.30" width="7.99" height="12.10" fill="#6c6cf5"/>
<rect x="379.00" y="335.10" width="46.42" height="5.20" fill="#e0e0fc"/>
<rect x="425.12" y="335.10" width="69.48" height="5.20" fill="#ffe8e8"/>
<rect x="494.30" y="335.10" width="46.42" height="5.20" fill="#fff0f0"/>
<rect x="540.42" y="335.10" width="46.42" height="5.20" fill="#c8c8fa"/>
<rect x="586.54" y="335.10" width="23.36" height="5.20" fill="#a0a0f6"/>
<rect x="379.00" y="340.30" width="7.99" height="12.10" fill="#fff0f0"/>
<rect x="386.69" y="340.30" width="7.99" height="12.10" fill="#ffffff"/>
<rect x="394.37" y="340.30" width="7.99" height="12.10" fill="#c8c8fa"/>
<rect x="402.06" y="340.30" width="7.99" height="12.10" fill="#ffe0e0"/>
<rect x="409.75" y="340.30" width="7.99" height="12.10" fill="#fff0f0"/>
<rect x="417.43" y="340.30" width="7.99" height="12.10" fill="#d8d8fa"/>
<rect x="425.12" y="340.30" width="7.99" height="12.10" fill="#fff0f0"/>
<rect x="432.81" y="340.30" width="7.99" height="12.10" fill="#ffecec"/>
<rect x="440.49" y="340.30" width="7.99" height="12.10" fill="#ffecec"/>
<rect x="448.18" y="340.30" width="7.99" height="12.10" fill="#ffe4e4"/>
<rect x="455.87" y="340.30" width="7.99" height="12.10" fill="#f4f4fe"/>
<rect x="463.55" y="340.30" width="7.99" height="12.10" fill="#d8d8fa"/>
<rect x="471.24" y="340.30" width="7.99" height="12.10" fill="#ffe8e8"/>
<rect x="478.93" y="340.30" width="7.99" height="12.10" fill="#fff0f0"/>
<rect x="486.61" y="340.30" width="7.99" height="12.10" fill="#fff8f8"/>
<rect x="494.30" y="340.30" width="7.99" height="12.10" fill="#fff0f0"/>
<rect x="501.99" y="340.30" width="7.99" height="12.10" fill="#fff0f0"/>
<rect x="509.67" y="340.30" width="7.99" height="12.10" fill="#fff8f8"/>
<rect x="517.36" y="340.30" width="7.99" height="12.10" fill="#fff8f8"/>
<rect x="525.05" y="340.30" width="7.99" height="12.10" fill="#d0d0fa"/>
<rect x="532.73" y="340.30" width="7.99" height="12.10" fill="#fff4f4"/>
<rect x="540.42" y="340.30" width="7.99" height="12.10" fill="#1010f0"/>
<rect x="548.11" y="340.30" width="7.99" height="12.10" fill="#1818f0"/>
<rect x="555.79" y="340.30" width="7.99" height="12.10" fill="#3030f2"/>
<rect x="563.48" y="340.30" width="7.99" height="12.10" fill="#3434f2"/>
<rect x="571.17" y="340.30" width="7.99" height="12.10" fill="#5858f4"/>
<rect x="578.85" y="340.30" width="7.99" height="12.10" fill="#7070f5"/>
<rect x="586.54" y="340.30" width="7.99" height="12.10" fill="#e0e0fc"/>
<rect x="594.23" y="340.30" width="7.99" height="12.10" fill="#b8b8f8"/>
<rect x="601.91" y="340.30" width="7.99" height="12.10" fill="#c8c8fa"/>
<rect x="379.00" y="352.10" width="46.42" height="5.40" fill="#f4f4fe"/>
<rect x="425.12" y="352.10" width="69.48" height="5.40" fill="#fff0f0"/>
<rect x="494.30" y="352.10" width="46.42" height="5.40" fill="#ffffff"/>
<rect x="540.42" y="352.10" width="46.42" height="5.40" fill="#3030f2"/>
<rect x="586.54" y="352.10" width="23.36" height="5.40" fill="#c8c8fa"/>
<rect x="379.00" y="357.50" width="7.99" height="11.70" fill="#ff5c5c"/>
<rect x="386.69" y="357.50" width="7.99" height="11.70" fill="#ff5050"/>
<rect x="394.37" y="357.50" width="7.99" height="11.70" fill="#ff9898"/>
<rect x="402.06" y="357.50" width="7.99" height="11.70" fill="#ffb0b0"/>
<rect x="409.75" y="357.50" width="7.99" height="11.70" fill="#ff0000"/>
<rect x="417.43" y="357.50" width="7.99" height="11.70" fill="#ff1010"/>
<rect x="425.12" y="357.50" width="7.99" height="11.70" fill="#fff0f0"/>
<rect x="432.81" y="357.50" width="7.99" height="11.70" fill="#ffe8e8"/>
<rect x="440.49" y="357.50" width="7.99" height="11.70" fill="#fff0f0"/>
<rect x="448.18" y="357.50" width="7.99" height="11.70" fill="#ffecec"/>
<rect x="455.87" y="357.50" width="7.99" height="11.70" fill="#fff4f4"/>
<rect x="463.55" y="357.50" width="7.99" height="11.70" fill="#ececfd"/>
<rect x="471.24" y="357.50" width="7.99" height="11.70" fill="#ffd0d0"/>
<rect x="478.93" y="357.50" width="7.99" height="11.70" fill="#ffd8d8"/>
<rect x="486.61" y="357.50" width="7.99" height="11.70" fill="#ffe8e8"/>
<rect x="494.30" y="357.50" width="7.99" height="11.70" fill="#ffd0d0"/>
<rect x="501.99" y="357.50" width="7.99" height="11.70" fill="#ffd0d0"/>
<rect x="509.67" y="357.50" width="7.99" height="11.70" fill="#ffe0e0"/>
<rect x="517.36" y="357.50" width="7.99" height="11.70" fill="#b4b4f8"/>
<rect x="525.05" y="357.50" width="7.99" height="11.70" fill="#a8a8f6"/>
<rect x="532.73" y="357.50" width="7.99" height="11.70" fill="#e0e0fc"/>
<rect x="540.42" y="357.50" width="7.99" height="11.70" fill="#f4f4fe"/>
<rect x="548.11" y="357.50" width="7.99" height="11.70" fill="#d8d8fa"/>
<rect x="555.79" y="357.50" width="7.99" height="11.70" fill="#fff0f0"/>
<rect x="563.48" y="357.50" width="7.99" height="11.70" fill="#e0e0fc"/>
<rect x="571.17" y="357.50" width="7.99" height="11.70" fill="#ffffff"/>
<rect x="578.85" y="357.50" width="7.99" height="11.70" fill="#ffe0e0"/>
<rect x="586.54" y="357.50" width="7.99" height="11.70" fill="#ffb8b8"/>
<rect x="594.23" y="357.50" width="7.99" height="11.70" fill="#ffd8d8"/>
<rect x="601.91" y="357.50" width="7.99" height="11.70" fill="#ffa0a0"/>
<rect x="379.00" y="368.90" width="46.42" height="5.70" fill="#ff4848"/>
<rect x="425.12" y="368.90" width="69.48" height="5.70" fill="#ffecec"/>
<rect x="494.30" y="368.90" width="46.42" height="5.70" fill="#f4f4fe"/>
<rect x="540.42" y="368.90" width="46.42" height="5.70" fill="#f0f0fe"/>
<rect x="586.54" y="368.90" width="23.36" height="5.70" fill="#ffb8b8"/>
<line x1="425.12" y1="306.60" x2="425.12" y2="374.60" stroke="#231f20" stroke-width="0.8"/>
<line x1="494.30" y1="306.60" x2="494.30" y2="374.60" stroke="#231f20" stroke-width="0.8"/>
<line x1="540.42" y1="306.60" x2="540.42" y2="374.60" stroke="#231f20" stroke-width="0.8"/>
<line x1="586.54" y1="306.60" x2="586.54" y2="374.60" stroke="#231f20" stroke-width="0.8"/>
<line x1="379.00" y1="323.30" x2="609.60" y2="323.30" stroke="#231f20" stroke-width="0.8"/>
<line x1="379.00" y1="340.30" x2="609.60" y2="340.30" stroke="#231f20" stroke-width="0.8"/>
<line x1="379.00" y1="357.50" x2="609.60" y2="357.50" stroke="#231f20" stroke-width="0.8"/>
<rect x="379.00" y="306.60" width="230.60" height="68.00" fill="none" stroke="#555" stroke-width="0.7"/>
<g transform="translate(383.64,302.10) rotate(-90) scale(1,0.98)" stroke="#231f20" stroke-width="0.2"><text x="0" y="0" font-size="8" textLength="7.0" lengthAdjust="spacingAndGlyphs">PA</text><text x="8.80" y="0" font-size="8" textLength="16.63" lengthAdjust="spacingAndGlyphs">30:0</text></g>
<g transform="translate(391.33,302.10) rotate(-90) scale(1,0.98)" stroke="#231f20" stroke-width="0.2"><text x="0" y="0" font-size="8" textLength="7.0" lengthAdjust="spacingAndGlyphs">PA</text><text x="8.80" y="0" font-size="8" textLength="16.63" lengthAdjust="spacingAndGlyphs">32:0</text></g>
<g transform="translate(399.02,302.10) rotate(-90) scale(1,0.98)" stroke="#231f20" stroke-width="0.2"><text x="0" y="0" font-size="8" textLength="7.0" lengthAdjust="spacingAndGlyphs">PA</text><text x="8.80" y="0" font-size="8" textLength="14.21" lengthAdjust="spacingAndGlyphs">32:1</text></g>
<g transform="translate(406.70,302.10) rotate(-90) scale(1,0.98)" stroke="#231f20" stroke-width="0.2"><text x="0" y="0" font-size="8" textLength="7.0" lengthAdjust="spacingAndGlyphs">PA</text><text x="8.80" y="0" font-size="8" textLength="13.96" lengthAdjust="spacingAndGlyphs">34:1</text></g>
<g transform="translate(414.39,302.10) rotate(-90) scale(1,0.98)" stroke="#231f20" stroke-width="0.2"><text x="0" y="0" font-size="8" textLength="7.0" lengthAdjust="spacingAndGlyphs">PA</text><text x="8.80" y="0" font-size="8" textLength="14.21" lengthAdjust="spacingAndGlyphs">36:1</text></g>
<g transform="translate(422.08,302.10) rotate(-90) scale(1,0.98)" stroke="#231f20" stroke-width="0.2"><text x="0" y="0" font-size="8" textLength="7.0" lengthAdjust="spacingAndGlyphs">PA</text><text x="8.80" y="0" font-size="8" textLength="16.63" lengthAdjust="spacingAndGlyphs">36:2</text></g>
<g transform="translate(429.76,302.10) rotate(-90) scale(1,0.98)" stroke="#231f20" stroke-width="0.2"><text x="0" y="0" font-size="8" textLength="8.4" lengthAdjust="spacingAndGlyphs">PC</text><text x="10.20" y="0" font-size="8" textLength="16.63" lengthAdjust="spacingAndGlyphs">30:0</text></g>
<g transform="translate(437.45,302.10) rotate(-90) scale(1,0.98)" stroke="#231f20" stroke-width="0.2"><text x="0" y="0" font-size="8" textLength="8.4" lengthAdjust="spacingAndGlyphs">PC</text><text x="10.20" y="0" font-size="8" textLength="14.21" lengthAdjust="spacingAndGlyphs">30:1</text></g>
<g transform="translate(445.14,302.10) rotate(-90) scale(1,0.98)" stroke="#231f20" stroke-width="0.2"><text x="0" y="0" font-size="8" textLength="8.4" lengthAdjust="spacingAndGlyphs">PC</text><text x="10.20" y="0" font-size="8" textLength="16.63" lengthAdjust="spacingAndGlyphs">32:0</text></g>
<g transform="translate(452.82,302.10) rotate(-90) scale(1,0.98)" stroke="#231f20" stroke-width="0.2"><text x="0" y="0" font-size="8" textLength="8.4" lengthAdjust="spacingAndGlyphs">PC</text><text x="10.20" y="0" font-size="8" textLength="14.21" lengthAdjust="spacingAndGlyphs">32:1</text></g>
<g transform="translate(460.51,302.10) rotate(-90) scale(1,0.98)" stroke="#231f20" stroke-width="0.2"><text x="0" y="0" font-size="8" textLength="8.4" lengthAdjust="spacingAndGlyphs">PC</text><text x="10.20" y="0" font-size="8" textLength="13.96" lengthAdjust="spacingAndGlyphs">34:1</text></g>
<g transform="translate(468.20,302.10) rotate(-90) scale(1,0.98)" stroke="#231f20" stroke-width="0.2"><text x="0" y="0" font-size="8" textLength="8.4" lengthAdjust="spacingAndGlyphs">PC</text><text x="10.20" y="0" font-size="8" textLength="16.38" lengthAdjust="spacingAndGlyphs">34:2</text></g>
<g transform="translate(475.88,302.10) rotate(-90) scale(1,0.98)" stroke="#231f20" stroke-width="0.2"><text x="0" y="0" font-size="8" textLength="8.4" lengthAdjust="spacingAndGlyphs">PC</text><text x="10.20" y="0" font-size="8" textLength="14.21" lengthAdjust="spacingAndGlyphs">36:1</text></g>
<g transform="translate(483.57,302.10) rotate(-90) scale(1,0.98)" stroke="#231f20" stroke-width="0.2"><text x="0" y="0" font-size="8" textLength="8.4" lengthAdjust="spacingAndGlyphs">PC</text><text x="10.20" y="0" font-size="8" textLength="16.63" lengthAdjust="spacingAndGlyphs">36:2</text></g>
<g transform="translate(491.26,302.10) rotate(-90) scale(1,0.98)" stroke="#231f20" stroke-width="0.2"><text x="0" y="0" font-size="8" textLength="8.4" lengthAdjust="spacingAndGlyphs">PC</text><text x="10.20" y="0" font-size="8" textLength="16.38" lengthAdjust="spacingAndGlyphs">38:4</text></g>
<g transform="translate(498.94,302.10) rotate(-90) scale(1,0.98)" stroke="#231f20" stroke-width="0.2"><text x="0" y="0" font-size="8" textLength="7.2" lengthAdjust="spacingAndGlyphs">PE</text><text x="9.00" y="0" font-size="8" textLength="14.21" lengthAdjust="spacingAndGlyphs">32:1</text></g>
<g transform="translate(506.63,302.10) rotate(-90) scale(1,0.98)" stroke="#231f20" stroke-width="0.2"><text x="0" y="0" font-size="8" textLength="7.2" lengthAdjust="spacingAndGlyphs">PE</text><text x="9.00" y="0" font-size="8" textLength="13.96" lengthAdjust="spacingAndGlyphs">34:1</text></g>
<g transform="translate(514.32,302.10) rotate(-90) scale(1,0.98)" stroke="#231f20" stroke-width="0.2"><text x="0" y="0" font-size="8" textLength="7.2" lengthAdjust="spacingAndGlyphs">PE</text><text x="9.00" y="0" font-size="8" textLength="16.38" lengthAdjust="spacingAndGlyphs">34:2</text></g>
<g transform="translate(522.00,302.10) rotate(-90) scale(1,0.98)" stroke="#231f20" stroke-width="0.2"><text x="0" y="0" font-size="8" textLength="7.2" lengthAdjust="spacingAndGlyphs">PE</text><text x="9.00" y="0" font-size="8" textLength="14.21" lengthAdjust="spacingAndGlyphs">36:1</text></g>
<g transform="translate(529.69,302.10) rotate(-90) scale(1,0.98)" stroke="#231f20" stroke-width="0.2"><text x="0" y="0" font-size="8" textLength="7.2" lengthAdjust="spacingAndGlyphs">PE</text><text x="9.00" y="0" font-size="8" textLength="16.63" lengthAdjust="spacingAndGlyphs">36:2</text></g>
<g transform="translate(537.38,302.10) rotate(-90) scale(1,0.98)" stroke="#231f20" stroke-width="0.2"><text x="0" y="0" font-size="8" textLength="7.2" lengthAdjust="spacingAndGlyphs">PE</text><text x="9.00" y="0" font-size="8" textLength="16.38" lengthAdjust="spacingAndGlyphs">38:4</text></g>
<g transform="translate(545.06,302.10) rotate(-90) scale(1,0.98)" stroke="#231f20" stroke-width="0.2"><text x="0" y="0" font-size="8" textLength="5.9" lengthAdjust="spacingAndGlyphs">PI</text><text x="7.70" y="0" font-size="8" textLength="13.96" lengthAdjust="spacingAndGlyphs">34:1</text></g>
<g transform="translate(552.75,302.10) rotate(-90) scale(1,0.98)" stroke="#231f20" stroke-width="0.2"><text x="0" y="0" font-size="8" textLength="5.9" lengthAdjust="spacingAndGlyphs">PI</text><text x="7.70" y="0" font-size="8" textLength="16.38" lengthAdjust="spacingAndGlyphs">34:2</text></g>
<g transform="translate(560.44,302.10) rotate(-90) scale(1,0.98)" stroke="#231f20" stroke-width="0.2"><text x="0" y="0" font-size="8" textLength="5.9" lengthAdjust="spacingAndGlyphs">PI</text><text x="7.70" y="0" font-size="8" textLength="14.21" lengthAdjust="spacingAndGlyphs">36:1</text></g>
<g transform="translate(568.12,302.10) rotate(-90) scale(1,0.98)" stroke="#231f20" stroke-width="0.2"><text x="0" y="0" font-size="8" textLength="5.9" lengthAdjust="spacingAndGlyphs">PI</text><text x="7.70" y="0" font-size="8" textLength="16.63" lengthAdjust="spacingAndGlyphs">36:2</text></g>
<g transform="translate(575.81,302.10) rotate(-90) scale(1,0.98)" stroke="#231f20" stroke-width="0.2"><text x="0" y="0" font-size="8" textLength="5.9" lengthAdjust="spacingAndGlyphs">PI</text><text x="7.70" y="0" font-size="8" textLength="16.63" lengthAdjust="spacingAndGlyphs">38:3</text></g>
<g transform="translate(583.50,302.10) rotate(-90) scale(1,0.98)" stroke="#231f20" stroke-width="0.2"><text x="0" y="0" font-size="8" textLength="5.9" lengthAdjust="spacingAndGlyphs">PI</text><text x="7.70" y="0" font-size="8" textLength="16.38" lengthAdjust="spacingAndGlyphs">38:4</text></g>
<g transform="translate(591.18,302.10) rotate(-90) scale(1,0.98)" stroke="#231f20" stroke-width="0.2"><text x="0" y="0" font-size="8" textLength="8.6" lengthAdjust="spacingAndGlyphs">PG</text><text x="10.40" y="0" font-size="8" textLength="14.21" lengthAdjust="spacingAndGlyphs">32:1</text></g>
<g transform="translate(598.87,302.10) rotate(-90) scale(1,0.98)" stroke="#231f20" stroke-width="0.2"><text x="0" y="0" font-size="8" textLength="8.6" lengthAdjust="spacingAndGlyphs">PG</text><text x="10.40" y="0" font-size="8" textLength="13.96" lengthAdjust="spacingAndGlyphs">34:1</text></g>
<g transform="translate(606.56,302.10) rotate(-90) scale(1,0.98)" stroke="#231f20" stroke-width="0.2"><text x="0" y="0" font-size="8" textLength="8.6" lengthAdjust="spacingAndGlyphs">PG</text><text x="10.40" y="0" font-size="8" textLength="14.21" lengthAdjust="spacingAndGlyphs">36:1</text></g>
<text x="374.50" y="315.10" font-size="7.3" text-anchor="end" textLength="13.3" lengthAdjust="spacingAndGlyphs"  stroke="#231f20" stroke-width="0.18">Nir2</text>
<text x="374.50" y="322.10" font-size="7.0" text-anchor="end"  stroke="#231f20" stroke-width="0.18">(total)</text>
<text x="374.50" y="332.10" font-size="7.3" text-anchor="end" textLength="17.5" lengthAdjust="spacingAndGlyphs"  stroke="#231f20" stroke-width="0.18">SCP2</text>
<text x="374.50" y="339.10" font-size="7.0" text-anchor="end"  stroke="#231f20" stroke-width="0.18">(total)</text>
<text x="374.50" y="349.10" font-size="7.3" text-anchor="end" textLength="22" lengthAdjust="spacingAndGlyphs"  stroke="#231f20" stroke-width="0.18">PDZD8</text>
<text x="374.50" y="356.10" font-size="7.0" text-anchor="end"  stroke="#231f20" stroke-width="0.18">(total)</text>
<text x="374.50" y="366.10" font-size="7.3" text-anchor="end" textLength="21.2" lengthAdjust="spacingAndGlyphs"  stroke="#231f20" stroke-width="0.18">ORP1L</text>
<text x="374.50" y="373.10" font-size="7.0" text-anchor="end"  stroke="#231f20" stroke-width="0.18">(total)</text>
<defs><linearGradient id="gf" x1="0" y1="0" x2="0" y2="1"><stop offset="0" stop-color="#ff0000"/><stop offset="0.486" stop-color="#ffffff"/><stop offset="1" stop-color="#0000ff"/></linearGradient></defs>
<rect x="617.2" y="302.7" width="4.1" height="68.69999999999999" fill="url(#gf)"/>
<line x1="621.30" y1="302.90" x2="624.70" y2="302.90" stroke="#555" stroke-width="0.6"/>
<line x1="621.30" y1="336.30" x2="624.70" y2="336.30" stroke="#555" stroke-width="0.6"/>
<line x1="621.30" y1="342.50" x2="623.10" y2="342.50" stroke="#555" stroke-width="0.6"/>
<line x1="621.30" y1="348.40" x2="623.10" y2="348.40" stroke="#555" stroke-width="0.6"/>
<line x1="621.30" y1="355.60" x2="623.10" y2="355.60" stroke="#555" stroke-width="0.6"/>
<line x1="621.30" y1="362.50" x2="623.10" y2="362.50" stroke="#555" stroke-width="0.6"/>
<line x1="621.30" y1="371.20" x2="624.70" y2="371.20" stroke="#555" stroke-width="0.6"/>
<text x="627.40" y="305.90" font-size="7.3" textLength="12.1" lengthAdjust="spacingAndGlyphs"  stroke="#231f20" stroke-width="0.18">1.79</text>
<text x="627.40" y="339.20" font-size="7.3"  stroke="#231f20" stroke-width="0.18">1</text>
<text x="627.40" y="374.40" font-size="7.3" textLength="12.1" lengthAdjust="spacingAndGlyphs"  stroke="#231f20" stroke-width="0.18">0.54</text>
<text transform="translate(667.7,311.6) rotate(90)" font-size="8.7" stroke="#231f20" stroke-width="0.18" textLength="57.3" lengthAdjust="spacingAndGlyphs">Fold change in</text>
<text transform="translate(658,314.2) rotate(90)" font-size="8.7" stroke="#231f20" stroke-width="0.18" textLength="52.1" lengthAdjust="spacingAndGlyphs">area of curve</text>
<text transform="translate(648.6,292.5) rotate(90)" font-size="8.7" stroke="#231f20" stroke-width="0.18" textLength="95" lengthAdjust="spacingAndGlyphs">(LTP versus control HEK)</text>
</svg>
</body></html>
